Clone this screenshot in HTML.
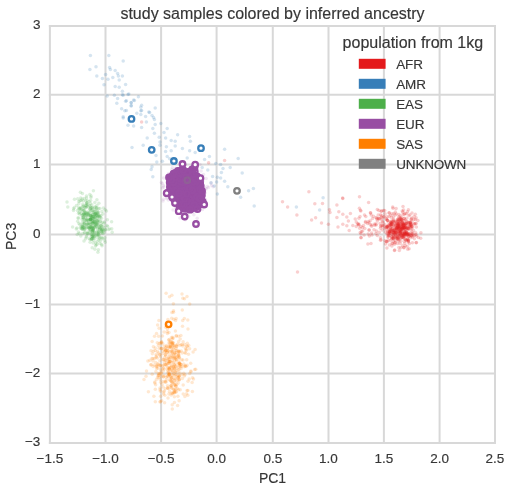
<!DOCTYPE html><html><head><meta charset="utf-8"><style>html,body{margin:0;padding:0;background:#fff;overflow:hidden}svg{display:block;filter:blur(0.6px)}</style></head><body><svg width="517" height="500" viewBox="0 0 517 500"><rect width="517" height="500" fill="#fff"/><g stroke="#d8d8d8" stroke-width="2.0" stroke-linecap="square"><line x1="49.90" y1="26" x2="49.90" y2="443"/><line x1="105.50" y1="26" x2="105.50" y2="443"/><line x1="161.10" y1="26" x2="161.10" y2="443"/><line x1="216.60" y1="26" x2="216.60" y2="443"/><line x1="272.80" y1="26" x2="272.80" y2="443"/><line x1="328.50" y1="26" x2="328.50" y2="443"/><line x1="383.90" y1="26" x2="383.90" y2="443"/><line x1="439.60" y1="26" x2="439.60" y2="443"/><line x1="495.00" y1="26" x2="495.00" y2="443"/><line x1="49.9" y1="26.00" x2="495" y2="26.00"/><line x1="49.9" y1="94.70" x2="495" y2="94.70"/><line x1="49.9" y1="164.50" x2="495" y2="164.50"/><line x1="49.9" y1="234.60" x2="495" y2="234.60"/><line x1="49.9" y1="304.40" x2="495" y2="304.40"/><line x1="49.9" y1="373.40" x2="495" y2="373.40"/><line x1="49.9" y1="443.00" x2="495" y2="443.00"/></g><g fill="#984ea3" fill-opacity="0.12"><circle cx="190.6" cy="182.6" r="1.75"/><circle cx="181.0" cy="187.2" r="1.75"/><circle cx="163.8" cy="187.0" r="1.75"/><circle cx="188.5" cy="185.4" r="1.75"/><circle cx="182.9" cy="181.3" r="1.75"/><circle cx="174.4" cy="184.9" r="1.75"/><circle cx="191.3" cy="186.9" r="1.75"/><circle cx="196.5" cy="187.4" r="1.75"/><circle cx="186.3" cy="210.1" r="1.75"/><circle cx="192.0" cy="183.4" r="1.75"/><circle cx="184.0" cy="197.0" r="1.75"/><circle cx="207.3" cy="186.5" r="1.75"/><circle cx="183.3" cy="203.0" r="1.75"/><circle cx="176.2" cy="186.2" r="1.75"/><circle cx="195.7" cy="197.5" r="1.75"/><circle cx="187.0" cy="198.7" r="1.75"/><circle cx="175.4" cy="168.3" r="1.75"/><circle cx="189.0" cy="199.1" r="1.75"/><circle cx="181.1" cy="176.0" r="1.75"/><circle cx="186.3" cy="189.3" r="1.75"/><circle cx="201.5" cy="199.7" r="1.75"/><circle cx="188.1" cy="204.5" r="1.75"/><circle cx="183.7" cy="178.0" r="1.75"/><circle cx="192.4" cy="197.6" r="1.75"/><circle cx="183.6" cy="179.8" r="1.75"/><circle cx="193.6" cy="196.4" r="1.75"/><circle cx="168.0" cy="190.8" r="1.75"/><circle cx="175.4" cy="199.8" r="1.75"/><circle cx="163.6" cy="178.1" r="1.75"/><circle cx="193.8" cy="205.0" r="1.75"/><circle cx="162.3" cy="183.5" r="1.75"/><circle cx="189.6" cy="182.1" r="1.75"/><circle cx="203.5" cy="174.5" r="1.75"/><circle cx="189.9" cy="176.4" r="1.75"/><circle cx="201.5" cy="189.7" r="1.75"/><circle cx="181.9" cy="167.7" r="1.75"/><circle cx="204.5" cy="199.8" r="1.75"/><circle cx="194.3" cy="204.8" r="1.75"/><circle cx="189.8" cy="181.7" r="1.75"/><circle cx="177.2" cy="179.6" r="1.75"/><circle cx="201.1" cy="171.0" r="1.75"/><circle cx="179.4" cy="185.8" r="1.75"/><circle cx="188.5" cy="197.5" r="1.75"/><circle cx="172.3" cy="167.5" r="1.75"/><circle cx="186.0" cy="205.8" r="1.75"/><circle cx="194.3" cy="192.8" r="1.75"/><circle cx="182.5" cy="193.8" r="1.75"/><circle cx="183.3" cy="200.6" r="1.75"/><circle cx="177.3" cy="191.7" r="1.75"/><circle cx="184.8" cy="197.1" r="1.75"/><circle cx="202.5" cy="209.5" r="1.75"/><circle cx="163.6" cy="185.6" r="1.75"/><circle cx="179.3" cy="196.9" r="1.75"/><circle cx="197.7" cy="173.1" r="1.75"/><circle cx="175.2" cy="179.6" r="1.75"/><circle cx="186.5" cy="198.3" r="1.75"/><circle cx="208.5" cy="187.4" r="1.75"/><circle cx="194.4" cy="192.0" r="1.75"/><circle cx="205.4" cy="199.6" r="1.75"/><circle cx="201.1" cy="176.0" r="1.75"/><circle cx="183.9" cy="179.4" r="1.75"/><circle cx="202.6" cy="198.5" r="1.75"/><circle cx="182.6" cy="184.1" r="1.75"/><circle cx="191.3" cy="180.9" r="1.75"/><circle cx="175.8" cy="196.3" r="1.75"/><circle cx="213.1" cy="186.8" r="1.75"/><circle cx="179.9" cy="174.8" r="1.75"/><circle cx="171.3" cy="196.8" r="1.75"/><circle cx="195.4" cy="190.1" r="1.75"/><circle cx="189.7" cy="191.5" r="1.75"/><circle cx="187.5" cy="170.2" r="1.75"/><circle cx="181.0" cy="191.4" r="1.75"/><circle cx="177.4" cy="183.8" r="1.75"/><circle cx="177.0" cy="185.7" r="1.75"/><circle cx="195.4" cy="184.7" r="1.75"/><circle cx="184.3" cy="200.6" r="1.75"/><circle cx="193.1" cy="212.0" r="1.75"/><circle cx="163.0" cy="201.1" r="1.75"/><circle cx="180.7" cy="191.8" r="1.75"/><circle cx="195.2" cy="204.1" r="1.75"/><circle cx="197.4" cy="192.0" r="1.75"/><circle cx="203.7" cy="186.3" r="1.75"/><circle cx="184.4" cy="200.4" r="1.75"/><circle cx="179.9" cy="218.1" r="1.75"/><circle cx="197.2" cy="218.3" r="1.75"/><circle cx="185.7" cy="185.0" r="1.75"/><circle cx="187.8" cy="199.5" r="1.75"/><circle cx="179.5" cy="194.9" r="1.75"/><circle cx="185.8" cy="211.0" r="1.75"/><circle cx="178.7" cy="203.6" r="1.75"/><circle cx="178.9" cy="177.5" r="1.75"/><circle cx="178.2" cy="174.5" r="1.75"/><circle cx="187.6" cy="203.4" r="1.75"/><circle cx="187.8" cy="198.1" r="1.75"/><circle cx="204.0" cy="193.5" r="1.75"/><circle cx="188.1" cy="186.4" r="1.75"/><circle cx="168.3" cy="199.9" r="1.75"/><circle cx="166.7" cy="198.5" r="1.75"/><circle cx="185.8" cy="204.6" r="1.75"/><circle cx="185.3" cy="179.3" r="1.75"/><circle cx="189.9" cy="182.7" r="1.75"/><circle cx="184.0" cy="190.5" r="1.75"/><circle cx="184.5" cy="187.5" r="1.75"/><circle cx="176.8" cy="187.5" r="1.75"/><circle cx="162.5" cy="188.0" r="1.75"/><circle cx="172.8" cy="204.6" r="1.75"/><circle cx="200.0" cy="164.6" r="1.75"/><circle cx="187.6" cy="188.4" r="1.75"/><circle cx="174.5" cy="196.9" r="1.75"/><circle cx="180.9" cy="167.0" r="1.75"/><circle cx="183.1" cy="188.1" r="1.75"/><circle cx="187.2" cy="174.0" r="1.75"/><circle cx="192.8" cy="199.6" r="1.75"/><circle cx="173.4" cy="181.4" r="1.75"/><circle cx="185.1" cy="182.6" r="1.75"/><circle cx="205.2" cy="192.7" r="1.75"/><circle cx="174.9" cy="179.8" r="1.75"/><circle cx="185.4" cy="219.8" r="1.75"/><circle cx="184.0" cy="191.7" r="1.75"/><circle cx="191.7" cy="189.5" r="1.75"/><circle cx="211.1" cy="183.1" r="1.75"/><circle cx="194.2" cy="192.1" r="1.75"/><circle cx="192.8" cy="174.7" r="1.75"/><circle cx="205.4" cy="188.4" r="1.75"/><circle cx="186.4" cy="177.8" r="1.75"/><circle cx="178.0" cy="197.3" r="1.75"/><circle cx="196.9" cy="199.8" r="1.75"/><circle cx="199.3" cy="199.3" r="1.75"/><circle cx="186.3" cy="200.9" r="1.75"/><circle cx="192.5" cy="188.7" r="1.75"/><circle cx="194.0" cy="206.7" r="1.75"/><circle cx="188.6" cy="185.4" r="1.75"/><circle cx="193.9" cy="214.7" r="1.75"/><circle cx="183.7" cy="188.8" r="1.75"/><circle cx="184.5" cy="205.9" r="1.75"/><circle cx="165.8" cy="194.8" r="1.75"/><circle cx="199.1" cy="179.4" r="1.75"/><circle cx="202.4" cy="197.0" r="1.75"/><circle cx="180.0" cy="192.7" r="1.75"/><circle cx="169.1" cy="182.6" r="1.75"/><circle cx="206.1" cy="178.4" r="1.75"/><circle cx="206.3" cy="188.9" r="1.75"/><circle cx="196.9" cy="190.6" r="1.75"/><circle cx="161.3" cy="182.6" r="1.75"/><circle cx="188.1" cy="175.0" r="1.75"/><circle cx="171.2" cy="194.8" r="1.75"/><circle cx="178.9" cy="168.0" r="1.75"/><circle cx="178.5" cy="201.2" r="1.75"/><circle cx="180.8" cy="202.2" r="1.75"/><circle cx="202.8" cy="190.4" r="1.75"/><circle cx="173.6" cy="173.1" r="1.75"/><circle cx="185.7" cy="201.5" r="1.75"/><circle cx="189.0" cy="197.1" r="1.75"/><circle cx="181.1" cy="193.9" r="1.75"/><circle cx="180.8" cy="185.8" r="1.75"/><circle cx="171.8" cy="169.6" r="1.75"/><circle cx="180.7" cy="175.6" r="1.75"/><circle cx="175.5" cy="198.7" r="1.75"/><circle cx="196.2" cy="181.8" r="1.75"/><circle cx="194.6" cy="194.6" r="1.75"/><circle cx="178.5" cy="204.3" r="1.75"/><circle cx="194.7" cy="182.0" r="1.75"/><circle cx="202.3" cy="181.6" r="1.75"/><circle cx="173.0" cy="210.1" r="1.75"/><circle cx="174.2" cy="192.6" r="1.75"/><circle cx="201.9" cy="191.5" r="1.75"/><circle cx="185.1" cy="191.3" r="1.75"/><circle cx="195.2" cy="179.5" r="1.75"/><circle cx="192.7" cy="197.5" r="1.75"/><circle cx="211.7" cy="185.6" r="1.75"/><circle cx="175.9" cy="199.6" r="1.75"/><circle cx="181.6" cy="193.8" r="1.75"/><circle cx="187.5" cy="205.2" r="1.75"/><circle cx="178.8" cy="188.8" r="1.75"/><circle cx="202.9" cy="181.1" r="1.75"/><circle cx="178.3" cy="174.2" r="1.75"/><circle cx="192.4" cy="192.3" r="1.75"/><circle cx="172.9" cy="198.7" r="1.75"/><circle cx="188.9" cy="199.8" r="1.75"/><circle cx="178.9" cy="212.6" r="1.75"/><circle cx="190.5" cy="188.5" r="1.75"/><circle cx="180.3" cy="186.8" r="1.75"/><circle cx="195.4" cy="186.5" r="1.75"/><circle cx="197.9" cy="197.5" r="1.75"/><circle cx="200.8" cy="200.6" r="1.75"/><circle cx="185.3" cy="165.2" r="1.75"/><circle cx="189.3" cy="200.3" r="1.75"/><circle cx="187.8" cy="197.2" r="1.75"/><circle cx="180.8" cy="185.1" r="1.75"/><circle cx="175.6" cy="207.7" r="1.75"/><circle cx="187.7" cy="183.6" r="1.75"/><circle cx="171.3" cy="188.0" r="1.75"/><circle cx="201.9" cy="196.0" r="1.75"/><circle cx="178.0" cy="208.6" r="1.75"/><circle cx="201.7" cy="202.8" r="1.75"/><circle cx="194.7" cy="205.0" r="1.75"/><circle cx="192.0" cy="200.1" r="1.75"/><circle cx="177.4" cy="209.5" r="1.75"/><circle cx="188.5" cy="216.3" r="1.75"/><circle cx="163.5" cy="199.2" r="1.75"/><circle cx="196.8" cy="185.5" r="1.75"/><circle cx="191.0" cy="199.7" r="1.75"/><circle cx="192.4" cy="183.0" r="1.75"/><circle cx="184.4" cy="203.2" r="1.75"/><circle cx="200.1" cy="191.3" r="1.75"/><circle cx="186.8" cy="192.6" r="1.75"/><circle cx="197.4" cy="176.3" r="1.75"/><circle cx="171.4" cy="191.6" r="1.75"/><circle cx="173.8" cy="182.4" r="1.75"/><circle cx="186.9" cy="196.3" r="1.75"/><circle cx="174.2" cy="200.4" r="1.75"/><circle cx="166.5" cy="197.1" r="1.75"/><circle cx="168.6" cy="173.4" r="1.75"/><circle cx="193.1" cy="184.7" r="1.75"/><circle cx="177.2" cy="184.2" r="1.75"/><circle cx="191.1" cy="189.3" r="1.75"/><circle cx="185.7" cy="203.7" r="1.75"/><circle cx="178.1" cy="183.9" r="1.75"/><circle cx="180.3" cy="205.2" r="1.75"/><circle cx="196.9" cy="206.7" r="1.75"/></g><g fill="#377eb8" fill-opacity="0.21"><circle cx="90.4" cy="55.5" r="1.75"/><circle cx="108.8" cy="55.5" r="1.75"/><circle cx="123.2" cy="61.1" r="1.75"/><circle cx="96.0" cy="66.7" r="1.75"/><circle cx="89.9" cy="69.6" r="1.75"/><circle cx="109.6" cy="67.5" r="1.75"/><circle cx="110.4" cy="69.6" r="1.75"/><circle cx="115.2" cy="70.4" r="1.75"/><circle cx="117.6" cy="73.6" r="1.75"/><circle cx="105.6" cy="74.4" r="1.75"/><circle cx="96.8" cy="76.0" r="1.75"/><circle cx="118.4" cy="76.0" r="1.75"/><circle cx="122.4" cy="76.0" r="1.75"/><circle cx="102.4" cy="78.4" r="1.75"/><circle cx="108.0" cy="79.2" r="1.75"/><circle cx="112.8" cy="77.6" r="1.75"/><circle cx="119.2" cy="80.0" r="1.75"/><circle cx="104.0" cy="84.8" r="1.75"/><circle cx="115.2" cy="86.4" r="1.75"/><circle cx="119.2" cy="87.2" r="1.75"/><circle cx="125.6" cy="84.5" r="1.75"/><circle cx="122.4" cy="91.2" r="1.75"/><circle cx="107.2" cy="96.0" r="1.75"/><circle cx="114.4" cy="95.2" r="1.75"/><circle cx="123.2" cy="95.2" r="1.75"/><circle cx="128.0" cy="94.4" r="1.75"/><circle cx="138.4" cy="96.8" r="1.75"/><circle cx="117.6" cy="98.4" r="1.75"/><circle cx="126.4" cy="100.8" r="1.75"/><circle cx="133.6" cy="100.0" r="1.75"/><circle cx="131.2" cy="102.4" r="1.75"/><circle cx="116.8" cy="103.2" r="1.75"/><circle cx="131.2" cy="105.6" r="1.75"/><circle cx="140.8" cy="107.2" r="1.75"/><circle cx="155.2" cy="108.0" r="1.75"/><circle cx="121.6" cy="108.8" r="1.75"/><circle cx="126.4" cy="110.4" r="1.75"/><circle cx="141.6" cy="110.4" r="1.75"/><circle cx="148.8" cy="112.0" r="1.75"/><circle cx="123.2" cy="116.8" r="1.75"/><circle cx="140.8" cy="114.4" r="1.75"/><circle cx="153.6" cy="117.6" r="1.75"/><circle cx="122.4" cy="94.8" r="1.75"/><circle cx="128.8" cy="94.0" r="1.75"/><circle cx="125.6" cy="101.2" r="1.75"/><circle cx="131.2" cy="102.8" r="1.75"/><circle cx="134.4" cy="100.4" r="1.75"/><circle cx="131.2" cy="106.0" r="1.75"/><circle cx="141.6" cy="105.2" r="1.75"/><circle cx="124.8" cy="110.8" r="1.75"/><circle cx="140.8" cy="110.8" r="1.75"/><circle cx="149.6" cy="112.4" r="1.75"/><circle cx="136.8" cy="113.2" r="1.75"/><circle cx="123.2" cy="118.0" r="1.75"/><circle cx="145.6" cy="116.4" r="1.75"/><circle cx="152.0" cy="115.6" r="1.75"/><circle cx="154.4" cy="119.6" r="1.75"/><circle cx="146.4" cy="122.0" r="1.75"/><circle cx="155.2" cy="124.4" r="1.75"/><circle cx="160.8" cy="123.6" r="1.75"/><circle cx="128.0" cy="125.2" r="1.75"/><circle cx="133.6" cy="126.0" r="1.75"/><circle cx="141.6" cy="127.6" r="1.75"/><circle cx="152.8" cy="128.4" r="1.75"/><circle cx="167.2" cy="128.4" r="1.75"/><circle cx="154.4" cy="133.2" r="1.75"/><circle cx="164.0" cy="132.4" r="1.75"/><circle cx="159.2" cy="137.2" r="1.75"/><circle cx="165.6" cy="138.0" r="1.75"/><circle cx="147.2" cy="138.0" r="1.75"/><circle cx="177.6" cy="134.8" r="1.75"/><circle cx="189.6" cy="136.4" r="1.75"/><circle cx="160.0" cy="142.0" r="1.75"/><circle cx="171.2" cy="140.4" r="1.75"/><circle cx="175.2" cy="141.2" r="1.75"/><circle cx="190.4" cy="141.2" r="1.75"/><circle cx="143.2" cy="145.2" r="1.75"/><circle cx="160.0" cy="145.2" r="1.75"/><circle cx="132.0" cy="147.6" r="1.75"/><circle cx="166.4" cy="146.8" r="1.75"/><circle cx="175.2" cy="146.0" r="1.75"/><circle cx="182.4" cy="148.4" r="1.75"/><circle cx="189.6" cy="150.8" r="1.75"/><circle cx="195.2" cy="152.4" r="1.75"/><circle cx="165.6" cy="151.6" r="1.75"/><circle cx="171.2" cy="150.8" r="1.75"/><circle cx="156.0" cy="155.6" r="1.75"/><circle cx="167.2" cy="156.4" r="1.75"/><circle cx="187.2" cy="158.0" r="1.75"/><circle cx="156.8" cy="162.0" r="1.75"/><circle cx="162.4" cy="161.2" r="1.75"/><circle cx="169.6" cy="158.8" r="1.75"/><circle cx="152.0" cy="166.8" r="1.75"/><circle cx="151.2" cy="169.6" r="1.75"/><circle cx="152.8" cy="176.8" r="1.75"/><circle cx="224.6" cy="149.2" r="1.75"/><circle cx="238.2" cy="158.5" r="1.75"/><circle cx="209.4" cy="156.4" r="1.75"/><circle cx="204.6" cy="159.6" r="1.75"/><circle cx="215.8" cy="163.6" r="1.75"/><circle cx="220.6" cy="164.4" r="1.75"/><circle cx="202.2" cy="167.6" r="1.75"/><circle cx="223.0" cy="168.4" r="1.75"/><circle cx="230.2" cy="167.6" r="1.75"/><circle cx="207.8" cy="170.0" r="1.75"/><circle cx="221.4" cy="172.4" r="1.75"/><circle cx="242.2" cy="172.9" r="1.75"/><circle cx="212.6" cy="176.4" r="1.75"/><circle cx="217.4" cy="177.2" r="1.75"/><circle cx="220.6" cy="178.0" r="1.75"/><circle cx="216.6" cy="182.0" r="1.75"/><circle cx="224.6" cy="181.2" r="1.75"/><circle cx="211.0" cy="182.8" r="1.75"/><circle cx="214.2" cy="186.0" r="1.75"/><circle cx="227.8" cy="186.8" r="1.75"/><circle cx="217.4" cy="194.0" r="1.75"/><circle cx="248.6" cy="190.8" r="1.75"/><circle cx="253.4" cy="188.4" r="1.75"/><circle cx="240.6" cy="197.2" r="1.75"/><circle cx="254.2" cy="206.0" r="1.75"/><circle cx="323.1" cy="197.8" r="1.75"/><circle cx="296.4" cy="207.1" r="1.75"/><circle cx="319.6" cy="210.1" r="1.75"/></g><g fill="#4daf4a" fill-opacity="0.19"><circle cx="90.7" cy="219.2" r="1.75"/><circle cx="97.8" cy="219.6" r="1.75"/><circle cx="97.6" cy="231.8" r="1.75"/><circle cx="85.4" cy="217.7" r="1.75"/><circle cx="90.0" cy="239.6" r="1.75"/><circle cx="111.7" cy="228.8" r="1.75"/><circle cx="91.1" cy="196.0" r="1.75"/><circle cx="92.7" cy="221.7" r="1.75"/><circle cx="82.4" cy="225.9" r="1.75"/><circle cx="78.5" cy="213.2" r="1.75"/><circle cx="92.1" cy="207.8" r="1.75"/><circle cx="97.9" cy="235.5" r="1.75"/><circle cx="79.9" cy="200.8" r="1.75"/><circle cx="95.8" cy="222.7" r="1.75"/><circle cx="81.3" cy="213.6" r="1.75"/><circle cx="90.1" cy="219.1" r="1.75"/><circle cx="97.6" cy="228.1" r="1.75"/><circle cx="105.2" cy="242.2" r="1.75"/><circle cx="96.4" cy="235.2" r="1.75"/><circle cx="101.6" cy="233.3" r="1.75"/><circle cx="81.2" cy="226.2" r="1.75"/><circle cx="91.6" cy="239.0" r="1.75"/><circle cx="91.7" cy="227.1" r="1.75"/><circle cx="93.6" cy="240.6" r="1.75"/><circle cx="92.4" cy="218.7" r="1.75"/><circle cx="93.5" cy="217.2" r="1.75"/><circle cx="92.3" cy="221.5" r="1.75"/><circle cx="93.2" cy="243.0" r="1.75"/><circle cx="87.8" cy="220.0" r="1.75"/><circle cx="89.4" cy="227.7" r="1.75"/><circle cx="81.5" cy="209.3" r="1.75"/><circle cx="90.7" cy="226.9" r="1.75"/><circle cx="90.6" cy="215.4" r="1.75"/><circle cx="84.1" cy="223.6" r="1.75"/><circle cx="102.5" cy="229.5" r="1.75"/><circle cx="92.5" cy="226.5" r="1.75"/><circle cx="83.5" cy="214.3" r="1.75"/><circle cx="88.9" cy="223.3" r="1.75"/><circle cx="90.7" cy="207.5" r="1.75"/><circle cx="100.0" cy="243.4" r="1.75"/><circle cx="88.9" cy="224.5" r="1.75"/><circle cx="93.1" cy="230.5" r="1.75"/><circle cx="79.2" cy="233.6" r="1.75"/><circle cx="87.3" cy="233.3" r="1.75"/><circle cx="91.6" cy="217.0" r="1.75"/><circle cx="89.9" cy="230.4" r="1.75"/><circle cx="84.1" cy="213.9" r="1.75"/><circle cx="87.1" cy="200.5" r="1.75"/><circle cx="101.4" cy="231.8" r="1.75"/><circle cx="90.8" cy="233.7" r="1.75"/><circle cx="83.3" cy="216.9" r="1.75"/><circle cx="104.8" cy="237.7" r="1.75"/><circle cx="82.7" cy="229.1" r="1.75"/><circle cx="87.2" cy="217.0" r="1.75"/><circle cx="95.9" cy="213.4" r="1.75"/><circle cx="92.7" cy="230.4" r="1.75"/><circle cx="94.7" cy="227.0" r="1.75"/><circle cx="86.2" cy="224.6" r="1.75"/><circle cx="87.6" cy="233.8" r="1.75"/><circle cx="111.6" cy="221.7" r="1.75"/><circle cx="73.6" cy="208.8" r="1.75"/><circle cx="94.0" cy="233.8" r="1.75"/><circle cx="99.6" cy="216.1" r="1.75"/><circle cx="84.7" cy="232.2" r="1.75"/><circle cx="82.3" cy="229.2" r="1.75"/><circle cx="89.2" cy="228.6" r="1.75"/><circle cx="96.6" cy="232.0" r="1.75"/><circle cx="97.6" cy="213.0" r="1.75"/><circle cx="93.4" cy="222.2" r="1.75"/><circle cx="93.5" cy="235.6" r="1.75"/><circle cx="88.8" cy="212.3" r="1.75"/><circle cx="85.2" cy="215.1" r="1.75"/><circle cx="97.0" cy="214.7" r="1.75"/><circle cx="100.3" cy="228.2" r="1.75"/><circle cx="89.2" cy="205.6" r="1.75"/><circle cx="93.0" cy="229.4" r="1.75"/><circle cx="76.9" cy="228.0" r="1.75"/><circle cx="104.2" cy="230.4" r="1.75"/><circle cx="94.9" cy="249.2" r="1.75"/><circle cx="100.9" cy="215.4" r="1.75"/><circle cx="90.9" cy="219.2" r="1.75"/><circle cx="89.8" cy="194.5" r="1.75"/><circle cx="97.1" cy="216.6" r="1.75"/><circle cx="92.3" cy="220.1" r="1.75"/><circle cx="98.0" cy="220.8" r="1.75"/><circle cx="84.6" cy="224.1" r="1.75"/><circle cx="102.2" cy="222.3" r="1.75"/><circle cx="102.0" cy="228.6" r="1.75"/><circle cx="86.7" cy="235.9" r="1.75"/><circle cx="84.5" cy="229.3" r="1.75"/><circle cx="87.0" cy="224.2" r="1.75"/><circle cx="81.1" cy="207.6" r="1.75"/><circle cx="99.5" cy="226.7" r="1.75"/><circle cx="91.3" cy="216.3" r="1.75"/><circle cx="94.6" cy="207.2" r="1.75"/><circle cx="82.0" cy="215.4" r="1.75"/><circle cx="84.3" cy="210.4" r="1.75"/><circle cx="90.4" cy="219.2" r="1.75"/><circle cx="89.2" cy="238.5" r="1.75"/><circle cx="99.1" cy="238.0" r="1.75"/><circle cx="90.8" cy="215.4" r="1.75"/><circle cx="79.4" cy="212.2" r="1.75"/><circle cx="74.3" cy="207.4" r="1.75"/><circle cx="97.1" cy="241.4" r="1.75"/><circle cx="98.7" cy="214.9" r="1.75"/><circle cx="94.9" cy="214.0" r="1.75"/><circle cx="97.6" cy="222.6" r="1.75"/><circle cx="97.9" cy="252.2" r="1.75"/><circle cx="98.4" cy="249.8" r="1.75"/><circle cx="92.4" cy="218.0" r="1.75"/><circle cx="101.7" cy="244.5" r="1.75"/><circle cx="86.6" cy="219.9" r="1.75"/><circle cx="79.5" cy="213.9" r="1.75"/><circle cx="98.1" cy="223.1" r="1.75"/><circle cx="86.4" cy="203.6" r="1.75"/><circle cx="93.9" cy="231.0" r="1.75"/><circle cx="95.8" cy="225.9" r="1.75"/><circle cx="80.8" cy="235.9" r="1.75"/><circle cx="90.5" cy="219.2" r="1.75"/><circle cx="96.9" cy="199.8" r="1.75"/><circle cx="90.5" cy="219.3" r="1.75"/><circle cx="94.0" cy="237.1" r="1.75"/><circle cx="94.8" cy="202.5" r="1.75"/><circle cx="88.3" cy="222.1" r="1.75"/><circle cx="92.2" cy="207.5" r="1.75"/><circle cx="77.7" cy="221.3" r="1.75"/><circle cx="93.7" cy="222.0" r="1.75"/><circle cx="77.2" cy="234.5" r="1.75"/><circle cx="67.8" cy="207.0" r="1.75"/><circle cx="107.7" cy="226.5" r="1.75"/><circle cx="92.9" cy="208.9" r="1.75"/><circle cx="101.9" cy="211.5" r="1.75"/><circle cx="93.0" cy="223.4" r="1.75"/><circle cx="82.6" cy="227.1" r="1.75"/><circle cx="79.7" cy="208.6" r="1.75"/><circle cx="90.8" cy="216.4" r="1.75"/><circle cx="94.7" cy="232.8" r="1.75"/><circle cx="88.6" cy="214.0" r="1.75"/><circle cx="86.9" cy="215.2" r="1.75"/><circle cx="97.5" cy="221.4" r="1.75"/><circle cx="94.3" cy="221.4" r="1.75"/><circle cx="84.2" cy="227.6" r="1.75"/><circle cx="82.7" cy="217.5" r="1.75"/><circle cx="102.9" cy="214.1" r="1.75"/><circle cx="90.6" cy="203.4" r="1.75"/><circle cx="86.9" cy="202.8" r="1.75"/><circle cx="88.1" cy="213.8" r="1.75"/><circle cx="92.1" cy="238.8" r="1.75"/><circle cx="93.3" cy="229.2" r="1.75"/><circle cx="90.6" cy="218.1" r="1.75"/><circle cx="84.3" cy="198.4" r="1.75"/><circle cx="91.5" cy="239.1" r="1.75"/><circle cx="94.8" cy="216.8" r="1.75"/><circle cx="104.2" cy="221.9" r="1.75"/><circle cx="86.0" cy="205.6" r="1.75"/><circle cx="83.3" cy="215.0" r="1.75"/><circle cx="107.0" cy="225.6" r="1.75"/><circle cx="82.7" cy="210.8" r="1.75"/><circle cx="89.2" cy="201.5" r="1.75"/><circle cx="92.0" cy="229.1" r="1.75"/><circle cx="93.6" cy="228.7" r="1.75"/><circle cx="80.7" cy="197.9" r="1.75"/><circle cx="101.3" cy="237.4" r="1.75"/><circle cx="78.7" cy="218.0" r="1.75"/><circle cx="91.2" cy="227.1" r="1.75"/><circle cx="92.7" cy="216.2" r="1.75"/><circle cx="92.6" cy="223.4" r="1.75"/><circle cx="90.6" cy="200.5" r="1.75"/><circle cx="67.0" cy="202.0" r="1.75"/><circle cx="77.9" cy="218.1" r="1.75"/><circle cx="96.7" cy="226.4" r="1.75"/><circle cx="88.0" cy="220.5" r="1.75"/><circle cx="100.3" cy="217.0" r="1.75"/><circle cx="98.4" cy="231.9" r="1.75"/><circle cx="93.1" cy="237.8" r="1.75"/><circle cx="85.3" cy="228.9" r="1.75"/><circle cx="83.6" cy="209.4" r="1.75"/><circle cx="82.5" cy="222.2" r="1.75"/><circle cx="83.5" cy="218.3" r="1.75"/><circle cx="81.9" cy="228.8" r="1.75"/><circle cx="105.7" cy="229.8" r="1.75"/><circle cx="104.1" cy="232.8" r="1.75"/><circle cx="108.4" cy="229.6" r="1.75"/><circle cx="78.4" cy="231.9" r="1.75"/><circle cx="90.0" cy="209.2" r="1.75"/><circle cx="85.7" cy="200.9" r="1.75"/><circle cx="89.7" cy="208.7" r="1.75"/><circle cx="102.9" cy="233.4" r="1.75"/><circle cx="77.7" cy="198.7" r="1.75"/><circle cx="86.5" cy="197.9" r="1.75"/><circle cx="90.1" cy="220.1" r="1.75"/><circle cx="84.8" cy="212.3" r="1.75"/><circle cx="95.0" cy="238.3" r="1.75"/><circle cx="103.0" cy="226.5" r="1.75"/><circle cx="97.8" cy="215.9" r="1.75"/><circle cx="94.3" cy="211.9" r="1.75"/><circle cx="96.8" cy="209.9" r="1.75"/><circle cx="83.3" cy="217.6" r="1.75"/><circle cx="95.5" cy="207.1" r="1.75"/><circle cx="86.7" cy="220.6" r="1.75"/><circle cx="92.8" cy="212.6" r="1.75"/><circle cx="91.8" cy="218.4" r="1.75"/><circle cx="102.2" cy="232.0" r="1.75"/><circle cx="80.4" cy="192.3" r="1.75"/><circle cx="91.8" cy="234.3" r="1.75"/><circle cx="92.4" cy="231.3" r="1.75"/><circle cx="87.1" cy="204.4" r="1.75"/><circle cx="97.0" cy="224.7" r="1.75"/><circle cx="96.5" cy="208.2" r="1.75"/><circle cx="92.5" cy="214.8" r="1.75"/><circle cx="97.5" cy="217.4" r="1.75"/><circle cx="86.1" cy="212.5" r="1.75"/><circle cx="101.1" cy="225.7" r="1.75"/><circle cx="84.9" cy="207.2" r="1.75"/><circle cx="82.6" cy="233.4" r="1.75"/><circle cx="76.5" cy="205.4" r="1.75"/><circle cx="96.1" cy="236.1" r="1.75"/><circle cx="89.8" cy="229.1" r="1.75"/><circle cx="97.1" cy="234.4" r="1.75"/><circle cx="91.4" cy="239.3" r="1.75"/><circle cx="92.7" cy="238.7" r="1.75"/><circle cx="82.3" cy="227.8" r="1.75"/><circle cx="81.1" cy="200.6" r="1.75"/><circle cx="95.2" cy="214.0" r="1.75"/><circle cx="94.8" cy="211.2" r="1.75"/><circle cx="104.1" cy="227.2" r="1.75"/><circle cx="82.2" cy="219.6" r="1.75"/><circle cx="98.4" cy="216.2" r="1.75"/><circle cx="95.5" cy="245.9" r="1.75"/><circle cx="98.3" cy="224.6" r="1.75"/><circle cx="86.8" cy="226.1" r="1.75"/><circle cx="86.1" cy="207.6" r="1.75"/><circle cx="105.4" cy="229.4" r="1.75"/><circle cx="83.6" cy="205.7" r="1.75"/><circle cx="95.5" cy="214.5" r="1.75"/><circle cx="86.8" cy="218.9" r="1.75"/><circle cx="92.2" cy="223.3" r="1.75"/><circle cx="92.4" cy="236.6" r="1.75"/><circle cx="105.1" cy="209.7" r="1.75"/><circle cx="112.2" cy="232.3" r="1.75"/><circle cx="101.5" cy="218.2" r="1.75"/><circle cx="94.2" cy="225.5" r="1.75"/><circle cx="92.5" cy="231.8" r="1.75"/><circle cx="96.6" cy="213.2" r="1.75"/><circle cx="90.7" cy="229.7" r="1.75"/><circle cx="97.1" cy="220.8" r="1.75"/><circle cx="89.4" cy="219.4" r="1.75"/><circle cx="82.8" cy="204.2" r="1.75"/><circle cx="104.2" cy="223.2" r="1.75"/><circle cx="92.4" cy="214.2" r="1.75"/><circle cx="102.0" cy="245.8" r="1.75"/><circle cx="89.8" cy="227.0" r="1.75"/><circle cx="85.6" cy="238.8" r="1.75"/><circle cx="99.0" cy="216.1" r="1.75"/><circle cx="101.6" cy="230.3" r="1.75"/><circle cx="94.9" cy="227.4" r="1.75"/><circle cx="86.2" cy="213.9" r="1.75"/><circle cx="96.6" cy="223.7" r="1.75"/><circle cx="84.0" cy="241.1" r="1.75"/><circle cx="89.9" cy="215.2" r="1.75"/><circle cx="86.0" cy="227.2" r="1.75"/><circle cx="99.4" cy="228.1" r="1.75"/><circle cx="98.5" cy="208.5" r="1.75"/><circle cx="88.6" cy="215.5" r="1.75"/><circle cx="91.6" cy="227.3" r="1.75"/><circle cx="84.6" cy="222.7" r="1.75"/><circle cx="98.1" cy="234.1" r="1.75"/><circle cx="93.4" cy="190.8" r="1.75"/><circle cx="82.8" cy="226.4" r="1.75"/><circle cx="84.1" cy="207.0" r="1.75"/><circle cx="72.6" cy="226.9" r="1.75"/><circle cx="95.5" cy="213.6" r="1.75"/><circle cx="90.3" cy="220.0" r="1.75"/><circle cx="82.4" cy="214.7" r="1.75"/><circle cx="93.3" cy="228.4" r="1.75"/><circle cx="101.4" cy="226.1" r="1.75"/><circle cx="87.5" cy="224.2" r="1.75"/><circle cx="86.2" cy="205.4" r="1.75"/><circle cx="100.3" cy="221.1" r="1.75"/><circle cx="92.1" cy="228.8" r="1.75"/><circle cx="82.3" cy="224.5" r="1.75"/><circle cx="94.8" cy="221.8" r="1.75"/><circle cx="94.3" cy="214.3" r="1.75"/><circle cx="73.5" cy="210.6" r="1.75"/><circle cx="83.9" cy="227.7" r="1.75"/><circle cx="93.3" cy="216.4" r="1.75"/><circle cx="91.5" cy="236.3" r="1.75"/><circle cx="100.2" cy="229.2" r="1.75"/><circle cx="94.6" cy="219.7" r="1.75"/><circle cx="90.1" cy="227.3" r="1.75"/><circle cx="90.2" cy="224.1" r="1.75"/><circle cx="82.2" cy="199.1" r="1.75"/><circle cx="77.5" cy="210.6" r="1.75"/><circle cx="101.8" cy="238.8" r="1.75"/><circle cx="83.1" cy="200.7" r="1.75"/><circle cx="97.5" cy="229.0" r="1.75"/><circle cx="80.2" cy="228.1" r="1.75"/><circle cx="92.5" cy="236.4" r="1.75"/><circle cx="93.9" cy="232.2" r="1.75"/><circle cx="93.7" cy="211.9" r="1.75"/><circle cx="89.3" cy="213.0" r="1.75"/><circle cx="97.8" cy="213.1" r="1.75"/><circle cx="78.8" cy="223.4" r="1.75"/><circle cx="100.3" cy="241.0" r="1.75"/><circle cx="99.9" cy="208.4" r="1.75"/><circle cx="85.5" cy="212.8" r="1.75"/><circle cx="90.9" cy="197.5" r="1.75"/><circle cx="91.0" cy="224.2" r="1.75"/><circle cx="83.5" cy="219.2" r="1.75"/><circle cx="100.6" cy="225.8" r="1.75"/><circle cx="99.5" cy="235.9" r="1.75"/><circle cx="94.4" cy="226.8" r="1.75"/><circle cx="88.1" cy="233.5" r="1.75"/><circle cx="87.3" cy="211.9" r="1.75"/><circle cx="96.7" cy="215.6" r="1.75"/><circle cx="94.5" cy="234.2" r="1.75"/><circle cx="91.7" cy="222.6" r="1.75"/><circle cx="98.4" cy="232.6" r="1.75"/><circle cx="78.8" cy="201.5" r="1.75"/><circle cx="101.8" cy="230.1" r="1.75"/><circle cx="74.5" cy="199.2" r="1.75"/><circle cx="91.3" cy="210.6" r="1.75"/><circle cx="94.9" cy="223.7" r="1.75"/><circle cx="95.1" cy="210.1" r="1.75"/><circle cx="96.1" cy="244.9" r="1.75"/><circle cx="84.8" cy="233.0" r="1.75"/><circle cx="99.0" cy="231.8" r="1.75"/><circle cx="90.6" cy="208.3" r="1.75"/><circle cx="84.2" cy="226.7" r="1.75"/><circle cx="99.0" cy="238.1" r="1.75"/><circle cx="98.9" cy="234.6" r="1.75"/><circle cx="87.7" cy="206.6" r="1.75"/><circle cx="92.8" cy="227.5" r="1.75"/><circle cx="91.9" cy="205.0" r="1.75"/><circle cx="87.0" cy="203.3" r="1.75"/><circle cx="92.4" cy="210.3" r="1.75"/><circle cx="89.9" cy="224.3" r="1.75"/><circle cx="92.3" cy="236.8" r="1.75"/><circle cx="82.4" cy="193.6" r="1.75"/><circle cx="98.8" cy="240.0" r="1.75"/><circle cx="102.7" cy="229.5" r="1.75"/><circle cx="95.5" cy="224.6" r="1.75"/><circle cx="80.9" cy="210.7" r="1.75"/><circle cx="95.2" cy="216.8" r="1.75"/><circle cx="106.5" cy="211.1" r="1.75"/><circle cx="87.8" cy="232.1" r="1.75"/><circle cx="86.4" cy="206.9" r="1.75"/><circle cx="80.4" cy="208.8" r="1.75"/><circle cx="103.3" cy="231.1" r="1.75"/><circle cx="95.4" cy="217.5" r="1.75"/><circle cx="98.0" cy="225.5" r="1.75"/><circle cx="83.9" cy="213.3" r="1.75"/><circle cx="92.9" cy="235.0" r="1.75"/><circle cx="90.8" cy="226.8" r="1.75"/><circle cx="107.4" cy="219.7" r="1.75"/><circle cx="81.3" cy="228.0" r="1.75"/><circle cx="94.8" cy="221.9" r="1.75"/><circle cx="93.4" cy="218.8" r="1.75"/><circle cx="95.4" cy="219.6" r="1.75"/><circle cx="97.7" cy="211.4" r="1.75"/><circle cx="84.7" cy="220.0" r="1.75"/><circle cx="87.5" cy="227.5" r="1.75"/><circle cx="90.9" cy="215.4" r="1.75"/><circle cx="93.0" cy="216.5" r="1.75"/><circle cx="78.8" cy="203.7" r="1.75"/><circle cx="84.9" cy="213.6" r="1.75"/><circle cx="92.1" cy="231.9" r="1.75"/><circle cx="95.7" cy="243.0" r="1.75"/><circle cx="101.5" cy="223.9" r="1.75"/><circle cx="104.5" cy="240.3" r="1.75"/><circle cx="87.7" cy="223.5" r="1.75"/><circle cx="100.1" cy="228.1" r="1.75"/><circle cx="99.5" cy="229.5" r="1.75"/><circle cx="97.0" cy="220.6" r="1.75"/><circle cx="94.4" cy="219.0" r="1.75"/><circle cx="96.8" cy="205.5" r="1.75"/><circle cx="94.1" cy="236.5" r="1.75"/><circle cx="96.0" cy="223.4" r="1.75"/><circle cx="95.7" cy="214.3" r="1.75"/><circle cx="84.7" cy="214.9" r="1.75"/><circle cx="90.2" cy="231.8" r="1.75"/><circle cx="84.2" cy="229.6" r="1.75"/><circle cx="78.8" cy="207.6" r="1.75"/><circle cx="91.1" cy="234.2" r="1.75"/><circle cx="86.5" cy="196.0" r="1.75"/><circle cx="94.7" cy="222.8" r="1.75"/><circle cx="82.7" cy="206.5" r="1.75"/><circle cx="85.8" cy="220.3" r="1.75"/><circle cx="96.7" cy="207.7" r="1.75"/><circle cx="109.7" cy="229.1" r="1.75"/><circle cx="88.4" cy="227.8" r="1.75"/><circle cx="92.2" cy="247.7" r="1.75"/><circle cx="100.1" cy="221.4" r="1.75"/><circle cx="88.2" cy="214.8" r="1.75"/><circle cx="88.6" cy="227.8" r="1.75"/><circle cx="86.2" cy="237.1" r="1.75"/><circle cx="90.7" cy="219.8" r="1.75"/><circle cx="98.9" cy="203.2" r="1.75"/><circle cx="83.9" cy="225.0" r="1.75"/><circle cx="91.4" cy="221.5" r="1.75"/><circle cx="94.5" cy="216.4" r="1.75"/><circle cx="90.0" cy="206.1" r="1.75"/><circle cx="76.3" cy="229.0" r="1.75"/><circle cx="83.9" cy="210.5" r="1.75"/><circle cx="102.5" cy="238.0" r="1.75"/><circle cx="87.1" cy="213.9" r="1.75"/><circle cx="90.7" cy="210.8" r="1.75"/><circle cx="95.7" cy="225.1" r="1.75"/><circle cx="92.4" cy="230.3" r="1.75"/><circle cx="97.1" cy="244.2" r="1.75"/><circle cx="103.4" cy="208.0" r="1.75"/><circle cx="98.5" cy="212.4" r="1.75"/><circle cx="79.9" cy="224.4" r="1.75"/><circle cx="85.7" cy="215.7" r="1.75"/><circle cx="99.9" cy="218.0" r="1.75"/><circle cx="84.1" cy="222.1" r="1.75"/><circle cx="101.1" cy="231.6" r="1.75"/><circle cx="78.9" cy="209.1" r="1.75"/><circle cx="90.1" cy="242.2" r="1.75"/><circle cx="98.5" cy="234.0" r="1.75"/></g><g fill="#ff7f00" fill-opacity="0.18"><circle cx="183.0" cy="359.9" r="1.75"/><circle cx="175.4" cy="375.0" r="1.75"/><circle cx="160.1" cy="365.4" r="1.75"/><circle cx="176.3" cy="345.2" r="1.75"/><circle cx="178.9" cy="380.1" r="1.75"/><circle cx="181.3" cy="351.0" r="1.75"/><circle cx="171.5" cy="393.3" r="1.75"/><circle cx="178.7" cy="350.7" r="1.75"/><circle cx="172.8" cy="392.7" r="1.75"/><circle cx="169.6" cy="373.0" r="1.75"/><circle cx="169.3" cy="346.6" r="1.75"/><circle cx="163.5" cy="393.9" r="1.75"/><circle cx="168.9" cy="343.1" r="1.75"/><circle cx="160.6" cy="365.7" r="1.75"/><circle cx="178.4" cy="351.5" r="1.75"/><circle cx="177.8" cy="356.3" r="1.75"/><circle cx="174.0" cy="375.4" r="1.75"/><circle cx="176.7" cy="357.3" r="1.75"/><circle cx="168.5" cy="375.0" r="1.75"/><circle cx="156.6" cy="368.6" r="1.75"/><circle cx="175.6" cy="385.1" r="1.75"/><circle cx="169.8" cy="361.7" r="1.75"/><circle cx="171.6" cy="351.3" r="1.75"/><circle cx="167.9" cy="372.9" r="1.75"/><circle cx="173.0" cy="345.3" r="1.75"/><circle cx="166.6" cy="324.9" r="1.75"/><circle cx="178.4" cy="354.9" r="1.75"/><circle cx="172.5" cy="344.1" r="1.75"/><circle cx="169.1" cy="373.4" r="1.75"/><circle cx="180.2" cy="339.0" r="1.75"/><circle cx="178.7" cy="361.7" r="1.75"/><circle cx="161.7" cy="373.8" r="1.75"/><circle cx="166.8" cy="359.1" r="1.75"/><circle cx="162.5" cy="368.9" r="1.75"/><circle cx="170.2" cy="361.4" r="1.75"/><circle cx="159.8" cy="354.9" r="1.75"/><circle cx="174.0" cy="388.9" r="1.75"/><circle cx="169.5" cy="391.5" r="1.75"/><circle cx="169.7" cy="343.9" r="1.75"/><circle cx="176.4" cy="346.3" r="1.75"/><circle cx="174.0" cy="384.9" r="1.75"/><circle cx="166.6" cy="362.9" r="1.75"/><circle cx="195.7" cy="369.2" r="1.75"/><circle cx="172.6" cy="379.5" r="1.75"/><circle cx="168.8" cy="363.0" r="1.75"/><circle cx="173.8" cy="319.2" r="1.75"/><circle cx="184.7" cy="344.4" r="1.75"/><circle cx="158.5" cy="374.9" r="1.75"/><circle cx="170.1" cy="340.9" r="1.75"/><circle cx="172.0" cy="343.0" r="1.75"/><circle cx="162.5" cy="336.1" r="1.75"/><circle cx="161.1" cy="372.2" r="1.75"/><circle cx="171.1" cy="370.5" r="1.75"/><circle cx="179.5" cy="363.8" r="1.75"/><circle cx="162.9" cy="359.4" r="1.75"/><circle cx="187.1" cy="365.3" r="1.75"/><circle cx="173.2" cy="362.8" r="1.75"/><circle cx="172.4" cy="372.8" r="1.75"/><circle cx="169.7" cy="361.7" r="1.75"/><circle cx="161.6" cy="348.6" r="1.75"/><circle cx="174.1" cy="378.8" r="1.75"/><circle cx="179.5" cy="365.7" r="1.75"/><circle cx="161.2" cy="376.6" r="1.75"/><circle cx="176.3" cy="336.2" r="1.75"/><circle cx="178.2" cy="375.7" r="1.75"/><circle cx="187.3" cy="343.3" r="1.75"/><circle cx="156.4" cy="379.6" r="1.75"/><circle cx="151.0" cy="350.8" r="1.75"/><circle cx="158.4" cy="345.5" r="1.75"/><circle cx="149.9" cy="360.2" r="1.75"/><circle cx="180.0" cy="373.1" r="1.75"/><circle cx="174.5" cy="358.0" r="1.75"/><circle cx="185.0" cy="374.7" r="1.75"/><circle cx="180.9" cy="335.4" r="1.75"/><circle cx="173.5" cy="343.1" r="1.75"/><circle cx="173.5" cy="368.6" r="1.75"/><circle cx="158.1" cy="368.2" r="1.75"/><circle cx="182.1" cy="374.4" r="1.75"/><circle cx="176.1" cy="348.6" r="1.75"/><circle cx="162.9" cy="343.9" r="1.75"/><circle cx="171.4" cy="387.5" r="1.75"/><circle cx="174.5" cy="364.9" r="1.75"/><circle cx="158.3" cy="373.4" r="1.75"/><circle cx="167.5" cy="328.9" r="1.75"/><circle cx="151.9" cy="358.6" r="1.75"/><circle cx="160.6" cy="396.3" r="1.75"/><circle cx="170.4" cy="345.4" r="1.75"/><circle cx="164.9" cy="395.2" r="1.75"/><circle cx="160.1" cy="379.6" r="1.75"/><circle cx="174.6" cy="392.8" r="1.75"/><circle cx="175.6" cy="357.5" r="1.75"/><circle cx="175.6" cy="366.3" r="1.75"/><circle cx="180.2" cy="363.9" r="1.75"/><circle cx="190.7" cy="363.2" r="1.75"/><circle cx="174.7" cy="352.7" r="1.75"/><circle cx="171.4" cy="365.7" r="1.75"/><circle cx="171.9" cy="382.2" r="1.75"/><circle cx="164.5" cy="349.2" r="1.75"/><circle cx="181.7" cy="359.8" r="1.75"/><circle cx="163.1" cy="387.1" r="1.75"/><circle cx="166.2" cy="380.1" r="1.75"/><circle cx="178.9" cy="355.6" r="1.75"/><circle cx="186.5" cy="350.3" r="1.75"/><circle cx="167.8" cy="367.8" r="1.75"/><circle cx="170.1" cy="380.6" r="1.75"/><circle cx="180.9" cy="364.6" r="1.75"/><circle cx="184.8" cy="352.5" r="1.75"/><circle cx="168.0" cy="398.0" r="1.75"/><circle cx="171.3" cy="385.7" r="1.75"/><circle cx="165.8" cy="360.5" r="1.75"/><circle cx="169.2" cy="368.8" r="1.75"/><circle cx="166.8" cy="365.9" r="1.75"/><circle cx="177.3" cy="388.4" r="1.75"/><circle cx="171.5" cy="377.9" r="1.75"/><circle cx="179.9" cy="345.3" r="1.75"/><circle cx="153.9" cy="396.2" r="1.75"/><circle cx="184.1" cy="366.7" r="1.75"/><circle cx="174.0" cy="347.8" r="1.75"/><circle cx="155.9" cy="371.6" r="1.75"/><circle cx="154.8" cy="382.9" r="1.75"/><circle cx="163.2" cy="371.1" r="1.75"/><circle cx="167.5" cy="385.8" r="1.75"/><circle cx="159.6" cy="354.5" r="1.75"/><circle cx="174.2" cy="391.8" r="1.75"/><circle cx="164.3" cy="375.8" r="1.75"/><circle cx="171.4" cy="341.7" r="1.75"/><circle cx="168.9" cy="393.9" r="1.75"/><circle cx="169.3" cy="375.0" r="1.75"/><circle cx="179.0" cy="351.6" r="1.75"/><circle cx="183.2" cy="394.0" r="1.75"/><circle cx="187.0" cy="390.4" r="1.75"/><circle cx="165.4" cy="354.4" r="1.75"/><circle cx="162.0" cy="348.3" r="1.75"/><circle cx="161.9" cy="384.2" r="1.75"/><circle cx="185.6" cy="353.3" r="1.75"/><circle cx="178.7" cy="341.5" r="1.75"/><circle cx="166.8" cy="346.5" r="1.75"/><circle cx="153.2" cy="366.4" r="1.75"/><circle cx="171.0" cy="357.6" r="1.75"/><circle cx="164.7" cy="346.6" r="1.75"/><circle cx="168.8" cy="353.9" r="1.75"/><circle cx="172.7" cy="342.4" r="1.75"/><circle cx="172.5" cy="374.9" r="1.75"/><circle cx="183.2" cy="385.1" r="1.75"/><circle cx="172.1" cy="352.3" r="1.75"/><circle cx="150.9" cy="365.1" r="1.75"/><circle cx="184.9" cy="396.6" r="1.75"/><circle cx="166.4" cy="345.4" r="1.75"/><circle cx="172.0" cy="365.9" r="1.75"/><circle cx="164.7" cy="364.5" r="1.75"/><circle cx="153.4" cy="346.7" r="1.75"/><circle cx="160.7" cy="382.2" r="1.75"/><circle cx="153.0" cy="361.1" r="1.75"/><circle cx="178.2" cy="364.1" r="1.75"/><circle cx="178.6" cy="352.7" r="1.75"/><circle cx="174.6" cy="382.3" r="1.75"/><circle cx="193.5" cy="378.9" r="1.75"/><circle cx="185.1" cy="365.4" r="1.75"/><circle cx="171.1" cy="395.0" r="1.75"/><circle cx="176.2" cy="392.1" r="1.75"/><circle cx="177.6" cy="405.5" r="1.75"/><circle cx="195.1" cy="349.4" r="1.75"/><circle cx="189.7" cy="373.6" r="1.75"/><circle cx="175.2" cy="363.1" r="1.75"/><circle cx="177.7" cy="344.3" r="1.75"/><circle cx="162.6" cy="350.9" r="1.75"/><circle cx="173.3" cy="382.9" r="1.75"/><circle cx="178.0" cy="372.5" r="1.75"/><circle cx="164.1" cy="332.1" r="1.75"/><circle cx="174.5" cy="368.3" r="1.75"/><circle cx="174.0" cy="392.7" r="1.75"/><circle cx="168.4" cy="361.7" r="1.75"/><circle cx="146.0" cy="376.2" r="1.75"/><circle cx="169.8" cy="351.5" r="1.75"/><circle cx="174.4" cy="345.7" r="1.75"/><circle cx="164.6" cy="402.8" r="1.75"/><circle cx="178.2" cy="383.1" r="1.75"/><circle cx="178.2" cy="377.7" r="1.75"/><circle cx="172.3" cy="408.9" r="1.75"/><circle cx="169.5" cy="379.5" r="1.75"/><circle cx="168.0" cy="358.8" r="1.75"/><circle cx="186.5" cy="393.7" r="1.75"/><circle cx="165.6" cy="364.8" r="1.75"/><circle cx="176.7" cy="346.5" r="1.75"/><circle cx="188.8" cy="345.6" r="1.75"/><circle cx="186.1" cy="366.4" r="1.75"/><circle cx="187.2" cy="346.3" r="1.75"/><circle cx="173.7" cy="366.7" r="1.75"/><circle cx="172.2" cy="404.7" r="1.75"/><circle cx="165.9" cy="382.2" r="1.75"/><circle cx="184.3" cy="375.9" r="1.75"/><circle cx="176.1" cy="374.4" r="1.75"/><circle cx="160.7" cy="369.9" r="1.75"/><circle cx="187.0" cy="346.3" r="1.75"/><circle cx="171.0" cy="381.1" r="1.75"/><circle cx="155.8" cy="362.6" r="1.75"/><circle cx="152.3" cy="353.7" r="1.75"/><circle cx="155.3" cy="348.1" r="1.75"/><circle cx="164.9" cy="359.9" r="1.75"/><circle cx="167.9" cy="319.4" r="1.75"/><circle cx="186.7" cy="359.8" r="1.75"/><circle cx="158.5" cy="353.1" r="1.75"/><circle cx="173.3" cy="346.0" r="1.75"/><circle cx="165.7" cy="356.1" r="1.75"/><circle cx="175.7" cy="350.8" r="1.75"/><circle cx="174.8" cy="371.6" r="1.75"/><circle cx="168.4" cy="388.6" r="1.75"/><circle cx="170.2" cy="342.6" r="1.75"/><circle cx="173.1" cy="367.3" r="1.75"/><circle cx="169.6" cy="369.4" r="1.75"/><circle cx="194.7" cy="369.4" r="1.75"/><circle cx="174.8" cy="360.3" r="1.75"/><circle cx="183.8" cy="363.9" r="1.75"/><circle cx="161.6" cy="341.8" r="1.75"/><circle cx="175.5" cy="379.1" r="1.75"/><circle cx="153.3" cy="351.2" r="1.75"/><circle cx="176.7" cy="384.5" r="1.75"/><circle cx="156.1" cy="357.2" r="1.75"/><circle cx="178.7" cy="354.8" r="1.75"/><circle cx="165.3" cy="354.7" r="1.75"/><circle cx="156.3" cy="365.9" r="1.75"/><circle cx="173.2" cy="338.3" r="1.75"/><circle cx="171.0" cy="386.0" r="1.75"/><circle cx="172.2" cy="383.0" r="1.75"/><circle cx="164.2" cy="391.0" r="1.75"/><circle cx="161.7" cy="400.8" r="1.75"/><circle cx="165.3" cy="351.3" r="1.75"/><circle cx="160.6" cy="357.1" r="1.75"/><circle cx="164.8" cy="351.9" r="1.75"/><circle cx="166.5" cy="377.6" r="1.75"/><circle cx="179.2" cy="358.5" r="1.75"/><circle cx="182.9" cy="346.0" r="1.75"/><circle cx="159.2" cy="343.5" r="1.75"/><circle cx="176.3" cy="335.5" r="1.75"/><circle cx="155.3" cy="389.2" r="1.75"/><circle cx="187.9" cy="390.4" r="1.75"/><circle cx="154.3" cy="365.1" r="1.75"/><circle cx="178.7" cy="366.7" r="1.75"/><circle cx="152.9" cy="358.4" r="1.75"/><circle cx="152.1" cy="341.5" r="1.75"/><circle cx="192.5" cy="377.8" r="1.75"/><circle cx="154.5" cy="336.3" r="1.75"/><circle cx="174.7" cy="353.3" r="1.75"/><circle cx="176.0" cy="352.5" r="1.75"/><circle cx="167.8" cy="369.4" r="1.75"/><circle cx="159.1" cy="328.3" r="1.75"/><circle cx="157.4" cy="351.5" r="1.75"/><circle cx="167.7" cy="363.7" r="1.75"/><circle cx="169.2" cy="374.5" r="1.75"/><circle cx="160.5" cy="391.3" r="1.75"/><circle cx="190.9" cy="371.7" r="1.75"/><circle cx="171.8" cy="388.4" r="1.75"/><circle cx="176.7" cy="368.3" r="1.75"/><circle cx="168.1" cy="350.7" r="1.75"/><circle cx="157.6" cy="377.3" r="1.75"/><circle cx="182.3" cy="344.6" r="1.75"/><circle cx="169.1" cy="368.8" r="1.75"/><circle cx="165.4" cy="350.2" r="1.75"/><circle cx="165.7" cy="327.3" r="1.75"/><circle cx="169.2" cy="359.1" r="1.75"/><circle cx="192.1" cy="382.5" r="1.75"/><circle cx="166.2" cy="364.5" r="1.75"/><circle cx="187.8" cy="395.2" r="1.75"/><circle cx="171.8" cy="362.2" r="1.75"/><circle cx="154.6" cy="358.5" r="1.75"/><circle cx="168.0" cy="350.7" r="1.75"/><circle cx="188.0" cy="329.0" r="1.75"/><circle cx="168.4" cy="372.4" r="1.75"/><circle cx="174.4" cy="396.7" r="1.75"/><circle cx="155.1" cy="350.5" r="1.75"/><circle cx="170.8" cy="367.2" r="1.75"/><circle cx="165.8" cy="350.1" r="1.75"/><circle cx="181.1" cy="344.7" r="1.75"/><circle cx="163.8" cy="392.0" r="1.75"/><circle cx="188.0" cy="381.2" r="1.75"/><circle cx="160.8" cy="348.5" r="1.75"/><circle cx="160.4" cy="343.1" r="1.75"/><circle cx="165.4" cy="388.8" r="1.75"/><circle cx="172.1" cy="350.3" r="1.75"/><circle cx="161.6" cy="342.3" r="1.75"/><circle cx="182.5" cy="326.2" r="1.75"/><circle cx="172.6" cy="337.2" r="1.75"/><circle cx="158.6" cy="336.3" r="1.75"/><circle cx="179.8" cy="363.0" r="1.75"/><circle cx="158.2" cy="375.7" r="1.75"/><circle cx="175.6" cy="359.1" r="1.75"/><circle cx="148.4" cy="391.8" r="1.75"/><circle cx="175.6" cy="371.9" r="1.75"/><circle cx="163.4" cy="376.5" r="1.75"/><circle cx="163.7" cy="365.1" r="1.75"/><circle cx="167.6" cy="388.1" r="1.75"/><circle cx="164.6" cy="357.6" r="1.75"/><circle cx="181.1" cy="368.4" r="1.75"/><circle cx="169.3" cy="359.5" r="1.75"/><circle cx="179.5" cy="351.7" r="1.75"/><circle cx="174.4" cy="402.6" r="1.75"/><circle cx="173.6" cy="349.1" r="1.75"/><circle cx="156.8" cy="366.7" r="1.75"/><circle cx="156.5" cy="333.6" r="1.75"/><circle cx="161.4" cy="343.1" r="1.75"/><circle cx="178.6" cy="336.3" r="1.75"/><circle cx="186.0" cy="349.5" r="1.75"/><circle cx="170.6" cy="376.5" r="1.75"/><circle cx="171.7" cy="377.4" r="1.75"/><circle cx="158.9" cy="320.5" r="1.75"/><circle cx="167.2" cy="331.7" r="1.75"/><circle cx="163.1" cy="381.6" r="1.75"/><circle cx="167.2" cy="352.3" r="1.75"/><circle cx="157.3" cy="358.0" r="1.75"/><circle cx="167.4" cy="333.4" r="1.75"/><circle cx="172.3" cy="343.0" r="1.75"/><circle cx="171.5" cy="354.9" r="1.75"/><circle cx="179.5" cy="379.7" r="1.75"/><circle cx="169.2" cy="361.4" r="1.75"/><circle cx="173.8" cy="389.8" r="1.75"/><circle cx="180.4" cy="366.7" r="1.75"/><circle cx="172.6" cy="393.8" r="1.75"/><circle cx="152.2" cy="374.2" r="1.75"/><circle cx="160.0" cy="389.8" r="1.75"/><circle cx="164.3" cy="362.0" r="1.75"/><circle cx="158.1" cy="364.5" r="1.75"/><circle cx="177.9" cy="396.2" r="1.75"/><circle cx="156.4" cy="356.1" r="1.75"/><circle cx="169.7" cy="374.6" r="1.75"/><circle cx="171.5" cy="337.5" r="1.75"/><circle cx="182.2" cy="352.9" r="1.75"/><circle cx="159.1" cy="374.9" r="1.75"/><circle cx="174.2" cy="356.2" r="1.75"/><circle cx="169.2" cy="339.4" r="1.75"/><circle cx="154.8" cy="382.1" r="1.75"/><circle cx="183.8" cy="373.2" r="1.75"/><circle cx="173.9" cy="357.5" r="1.75"/><circle cx="168.6" cy="347.2" r="1.75"/><circle cx="188.5" cy="354.2" r="1.75"/><circle cx="174.3" cy="365.0" r="1.75"/><circle cx="155.3" cy="401.8" r="1.75"/><circle cx="166.1" cy="350.4" r="1.75"/><circle cx="171.2" cy="347.9" r="1.75"/><circle cx="170.3" cy="346.8" r="1.75"/><circle cx="175.9" cy="366.1" r="1.75"/><circle cx="155.6" cy="384.7" r="1.75"/><circle cx="172.0" cy="344.0" r="1.75"/><circle cx="173.8" cy="373.2" r="1.75"/><circle cx="189.6" cy="348.7" r="1.75"/><circle cx="179.0" cy="363.3" r="1.75"/><circle cx="176.5" cy="360.1" r="1.75"/><circle cx="169.5" cy="374.6" r="1.75"/><circle cx="157.6" cy="325.1" r="1.75"/><circle cx="170.0" cy="356.7" r="1.75"/><circle cx="171.0" cy="377.5" r="1.75"/><circle cx="167.9" cy="388.0" r="1.75"/><circle cx="169.7" cy="367.5" r="1.75"/><circle cx="179.0" cy="376.6" r="1.75"/><circle cx="169.3" cy="367.9" r="1.75"/><circle cx="162.3" cy="353.8" r="1.75"/><circle cx="171.4" cy="381.1" r="1.75"/><circle cx="165.7" cy="381.6" r="1.75"/><circle cx="170.7" cy="385.8" r="1.75"/><circle cx="176.9" cy="380.8" r="1.75"/><circle cx="179.3" cy="375.8" r="1.75"/><circle cx="179.2" cy="369.6" r="1.75"/><circle cx="167.8" cy="370.8" r="1.75"/><circle cx="175.7" cy="389.3" r="1.75"/><circle cx="174.5" cy="380.2" r="1.75"/><circle cx="185.6" cy="348.3" r="1.75"/><circle cx="167.8" cy="376.3" r="1.75"/><circle cx="170.9" cy="346.7" r="1.75"/><circle cx="181.0" cy="364.7" r="1.75"/><circle cx="160.0" cy="402.1" r="1.75"/><circle cx="157.1" cy="365.7" r="1.75"/><circle cx="163.5" cy="368.1" r="1.75"/><circle cx="176.5" cy="350.4" r="1.75"/><circle cx="169.4" cy="363.4" r="1.75"/><circle cx="160.0" cy="388.1" r="1.75"/><circle cx="172.3" cy="360.4" r="1.75"/><circle cx="163.5" cy="359.5" r="1.75"/><circle cx="172.0" cy="357.1" r="1.75"/><circle cx="147.9" cy="361.0" r="1.75"/><circle cx="151.1" cy="364.5" r="1.75"/><circle cx="163.5" cy="376.9" r="1.75"/><circle cx="174.8" cy="390.7" r="1.75"/><circle cx="180.2" cy="389.7" r="1.75"/><circle cx="176.0" cy="386.2" r="1.75"/><circle cx="175.7" cy="354.6" r="1.75"/><circle cx="157.3" cy="342.8" r="1.75"/><circle cx="175.6" cy="320.5" r="1.75"/><circle cx="172.3" cy="351.5" r="1.75"/><circle cx="178.2" cy="369.7" r="1.75"/><circle cx="162.6" cy="366.1" r="1.75"/><circle cx="146.5" cy="371.0" r="1.75"/><circle cx="175.4" cy="330.9" r="1.75"/><circle cx="179.5" cy="363.6" r="1.75"/><circle cx="172.3" cy="338.9" r="1.75"/><circle cx="176.9" cy="377.0" r="1.75"/><circle cx="170.4" cy="347.2" r="1.75"/><circle cx="178.5" cy="389.7" r="1.75"/><circle cx="174.8" cy="385.1" r="1.75"/><circle cx="164.4" cy="369.0" r="1.75"/><circle cx="174.6" cy="368.9" r="1.75"/><circle cx="164.8" cy="382.1" r="1.75"/><circle cx="159.4" cy="373.4" r="1.75"/><circle cx="178.9" cy="357.2" r="1.75"/><circle cx="167.5" cy="348.7" r="1.75"/><circle cx="172.3" cy="353.8" r="1.75"/><circle cx="189.2" cy="379.1" r="1.75"/><circle cx="168.6" cy="339.9" r="1.75"/><circle cx="192.4" cy="391.6" r="1.75"/><circle cx="176.0" cy="370.7" r="1.75"/><circle cx="172.9" cy="358.1" r="1.75"/><circle cx="190.9" cy="370.9" r="1.75"/><circle cx="156.0" cy="354.5" r="1.75"/><circle cx="144.0" cy="379.5" r="1.75"/><circle cx="179.1" cy="400.7" r="1.75"/><circle cx="193.1" cy="352.1" r="1.75"/><circle cx="175.8" cy="385.9" r="1.75"/><circle cx="179.4" cy="357.2" r="1.75"/><circle cx="179.5" cy="376.3" r="1.75"/><circle cx="185.4" cy="366.3" r="1.75"/><circle cx="168.5" cy="357.1" r="1.75"/><circle cx="167.0" cy="352.2" r="1.75"/><circle cx="167.4" cy="376.3" r="1.75"/><circle cx="175.8" cy="391.8" r="1.75"/><circle cx="182.4" cy="378.5" r="1.75"/><circle cx="158.8" cy="377.4" r="1.75"/><circle cx="183.1" cy="341.7" r="1.75"/><circle cx="159.1" cy="348.3" r="1.75"/><circle cx="159.8" cy="360.8" r="1.75"/><circle cx="160.9" cy="373.6" r="1.75"/><circle cx="157.9" cy="363.8" r="1.75"/><circle cx="165.4" cy="347.7" r="1.75"/><circle cx="181.5" cy="366.6" r="1.75"/><circle cx="176.3" cy="359.8" r="1.75"/><circle cx="178.0" cy="377.8" r="1.75"/><circle cx="169.0" cy="332.4" r="1.75"/><circle cx="179.2" cy="379.2" r="1.75"/><circle cx="172.5" cy="370.7" r="1.75"/><circle cx="171.9" cy="369.8" r="1.75"/><circle cx="160.0" cy="365.0" r="1.75"/><circle cx="173.9" cy="354.5" r="1.75"/><circle cx="160.4" cy="401.4" r="1.75"/><circle cx="182.3" cy="310.1" r="1.75"/><circle cx="173.5" cy="312.3" r="1.75"/><circle cx="166.1" cy="293.3" r="1.75"/><circle cx="187.8" cy="319.9" r="1.75"/><circle cx="171.9" cy="295.3" r="1.75"/><circle cx="182.8" cy="298.3" r="1.75"/><circle cx="187.0" cy="296.4" r="1.75"/><circle cx="176.1" cy="318.6" r="1.75"/><circle cx="184.3" cy="318.5" r="1.75"/><circle cx="189.7" cy="303.9" r="1.75"/><circle cx="171.9" cy="312.5" r="1.75"/><circle cx="173.4" cy="303.8" r="1.75"/><circle cx="169.5" cy="296.7" r="1.75"/><circle cx="171.7" cy="318.3" r="1.75"/><circle cx="182.7" cy="320.6" r="1.75"/><circle cx="184.5" cy="298.7" r="1.75"/><circle cx="173.5" cy="310.8" r="1.75"/><circle cx="182.0" cy="294.0" r="1.75"/></g><g fill="#e41a1c" fill-opacity="0.21"><circle cx="398.4" cy="228.6" r="1.75"/><circle cx="411.3" cy="235.6" r="1.75"/><circle cx="402.2" cy="224.8" r="1.75"/><circle cx="400.7" cy="234.5" r="1.75"/><circle cx="406.6" cy="225.8" r="1.75"/><circle cx="398.9" cy="234.0" r="1.75"/><circle cx="393.3" cy="238.1" r="1.75"/><circle cx="401.2" cy="229.1" r="1.75"/><circle cx="383.8" cy="216.9" r="1.75"/><circle cx="393.6" cy="225.3" r="1.75"/><circle cx="393.2" cy="233.1" r="1.75"/><circle cx="402.0" cy="227.8" r="1.75"/><circle cx="386.4" cy="241.6" r="1.75"/><circle cx="399.0" cy="234.9" r="1.75"/><circle cx="396.2" cy="230.0" r="1.75"/><circle cx="406.0" cy="231.9" r="1.75"/><circle cx="407.9" cy="228.5" r="1.75"/><circle cx="415.3" cy="214.3" r="1.75"/><circle cx="397.0" cy="238.1" r="1.75"/><circle cx="399.1" cy="226.3" r="1.75"/><circle cx="388.2" cy="239.9" r="1.75"/><circle cx="387.3" cy="234.1" r="1.75"/><circle cx="402.3" cy="237.2" r="1.75"/><circle cx="411.4" cy="224.1" r="1.75"/><circle cx="395.1" cy="227.2" r="1.75"/><circle cx="388.5" cy="236.7" r="1.75"/><circle cx="398.0" cy="231.1" r="1.75"/><circle cx="392.7" cy="229.9" r="1.75"/><circle cx="396.3" cy="229.1" r="1.75"/><circle cx="392.9" cy="238.3" r="1.75"/><circle cx="396.1" cy="208.5" r="1.75"/><circle cx="405.4" cy="227.2" r="1.75"/><circle cx="394.4" cy="250.5" r="1.75"/><circle cx="400.3" cy="218.6" r="1.75"/><circle cx="396.3" cy="232.8" r="1.75"/><circle cx="399.1" cy="240.0" r="1.75"/><circle cx="408.4" cy="223.1" r="1.75"/><circle cx="401.0" cy="235.0" r="1.75"/><circle cx="397.7" cy="225.8" r="1.75"/><circle cx="407.0" cy="233.4" r="1.75"/><circle cx="390.6" cy="225.1" r="1.75"/><circle cx="397.7" cy="228.7" r="1.75"/><circle cx="395.5" cy="240.8" r="1.75"/><circle cx="393.7" cy="220.6" r="1.75"/><circle cx="402.2" cy="211.0" r="1.75"/><circle cx="393.3" cy="234.9" r="1.75"/><circle cx="391.2" cy="222.7" r="1.75"/><circle cx="408.5" cy="233.5" r="1.75"/><circle cx="401.1" cy="231.7" r="1.75"/><circle cx="395.9" cy="232.3" r="1.75"/><circle cx="399.3" cy="250.5" r="1.75"/><circle cx="404.6" cy="226.9" r="1.75"/><circle cx="400.4" cy="230.2" r="1.75"/><circle cx="390.9" cy="222.9" r="1.75"/><circle cx="411.8" cy="218.1" r="1.75"/><circle cx="396.6" cy="238.3" r="1.75"/><circle cx="411.7" cy="221.3" r="1.75"/><circle cx="411.4" cy="226.8" r="1.75"/><circle cx="412.8" cy="234.0" r="1.75"/><circle cx="398.8" cy="235.9" r="1.75"/><circle cx="404.9" cy="223.4" r="1.75"/><circle cx="416.4" cy="227.0" r="1.75"/><circle cx="409.2" cy="225.9" r="1.75"/><circle cx="387.7" cy="220.6" r="1.75"/><circle cx="400.2" cy="235.6" r="1.75"/><circle cx="413.6" cy="230.6" r="1.75"/><circle cx="398.9" cy="219.7" r="1.75"/><circle cx="400.6" cy="232.4" r="1.75"/><circle cx="385.0" cy="240.7" r="1.75"/><circle cx="409.1" cy="248.8" r="1.75"/><circle cx="394.3" cy="230.2" r="1.75"/><circle cx="401.0" cy="218.9" r="1.75"/><circle cx="394.8" cy="221.7" r="1.75"/><circle cx="404.6" cy="233.4" r="1.75"/><circle cx="410.6" cy="226.5" r="1.75"/><circle cx="390.8" cy="233.5" r="1.75"/><circle cx="403.5" cy="235.4" r="1.75"/><circle cx="409.8" cy="225.0" r="1.75"/><circle cx="406.6" cy="221.5" r="1.75"/><circle cx="402.0" cy="235.6" r="1.75"/><circle cx="400.0" cy="231.6" r="1.75"/><circle cx="390.8" cy="224.4" r="1.75"/><circle cx="401.9" cy="219.8" r="1.75"/><circle cx="394.7" cy="250.0" r="1.75"/><circle cx="402.7" cy="222.9" r="1.75"/><circle cx="393.3" cy="241.2" r="1.75"/><circle cx="380.5" cy="226.6" r="1.75"/><circle cx="404.9" cy="224.6" r="1.75"/><circle cx="404.1" cy="220.4" r="1.75"/><circle cx="400.1" cy="229.4" r="1.75"/><circle cx="400.3" cy="230.2" r="1.75"/><circle cx="400.4" cy="238.3" r="1.75"/><circle cx="398.2" cy="224.1" r="1.75"/><circle cx="398.1" cy="226.4" r="1.75"/><circle cx="389.1" cy="213.1" r="1.75"/><circle cx="390.3" cy="231.3" r="1.75"/><circle cx="395.2" cy="225.5" r="1.75"/><circle cx="420.7" cy="238.2" r="1.75"/><circle cx="398.5" cy="223.6" r="1.75"/><circle cx="410.0" cy="222.4" r="1.75"/><circle cx="409.0" cy="233.8" r="1.75"/><circle cx="410.0" cy="222.9" r="1.75"/><circle cx="406.5" cy="213.8" r="1.75"/><circle cx="398.8" cy="237.8" r="1.75"/><circle cx="405.0" cy="213.6" r="1.75"/><circle cx="405.0" cy="232.6" r="1.75"/><circle cx="399.5" cy="222.8" r="1.75"/><circle cx="398.0" cy="224.1" r="1.75"/><circle cx="406.8" cy="232.7" r="1.75"/><circle cx="407.7" cy="234.6" r="1.75"/><circle cx="390.8" cy="230.0" r="1.75"/><circle cx="415.4" cy="219.6" r="1.75"/><circle cx="402.0" cy="222.4" r="1.75"/><circle cx="393.6" cy="230.6" r="1.75"/><circle cx="406.6" cy="235.2" r="1.75"/><circle cx="403.3" cy="236.7" r="1.75"/><circle cx="388.2" cy="235.6" r="1.75"/><circle cx="402.9" cy="227.3" r="1.75"/><circle cx="399.9" cy="221.7" r="1.75"/><circle cx="408.4" cy="222.6" r="1.75"/><circle cx="389.3" cy="228.8" r="1.75"/><circle cx="395.8" cy="228.2" r="1.75"/><circle cx="410.9" cy="227.7" r="1.75"/><circle cx="400.9" cy="247.7" r="1.75"/><circle cx="389.9" cy="231.9" r="1.75"/><circle cx="408.4" cy="241.4" r="1.75"/><circle cx="416.2" cy="223.4" r="1.75"/><circle cx="404.4" cy="228.1" r="1.75"/><circle cx="396.8" cy="222.9" r="1.75"/><circle cx="389.5" cy="231.7" r="1.75"/><circle cx="405.5" cy="220.1" r="1.75"/><circle cx="405.6" cy="224.3" r="1.75"/><circle cx="392.7" cy="207.0" r="1.75"/><circle cx="408.0" cy="234.9" r="1.75"/><circle cx="397.8" cy="225.7" r="1.75"/><circle cx="390.7" cy="233.3" r="1.75"/><circle cx="399.6" cy="233.5" r="1.75"/><circle cx="401.4" cy="217.2" r="1.75"/><circle cx="388.8" cy="232.5" r="1.75"/><circle cx="387.9" cy="231.3" r="1.75"/><circle cx="406.7" cy="218.3" r="1.75"/><circle cx="405.1" cy="229.5" r="1.75"/><circle cx="404.1" cy="223.9" r="1.75"/><circle cx="400.2" cy="232.8" r="1.75"/><circle cx="413.6" cy="235.5" r="1.75"/><circle cx="404.1" cy="218.5" r="1.75"/><circle cx="402.9" cy="223.7" r="1.75"/><circle cx="400.0" cy="231.7" r="1.75"/><circle cx="407.6" cy="234.5" r="1.75"/><circle cx="402.0" cy="229.1" r="1.75"/><circle cx="410.5" cy="222.2" r="1.75"/><circle cx="400.9" cy="241.1" r="1.75"/><circle cx="399.3" cy="236.6" r="1.75"/><circle cx="407.1" cy="246.2" r="1.75"/><circle cx="408.9" cy="215.8" r="1.75"/><circle cx="400.7" cy="232.1" r="1.75"/><circle cx="406.7" cy="232.8" r="1.75"/><circle cx="414.3" cy="238.8" r="1.75"/><circle cx="392.0" cy="224.2" r="1.75"/><circle cx="385.5" cy="243.9" r="1.75"/><circle cx="399.5" cy="228.1" r="1.75"/><circle cx="388.9" cy="225.5" r="1.75"/><circle cx="403.3" cy="225.7" r="1.75"/><circle cx="397.3" cy="223.7" r="1.75"/><circle cx="414.4" cy="224.2" r="1.75"/><circle cx="389.4" cy="224.4" r="1.75"/><circle cx="397.3" cy="227.8" r="1.75"/><circle cx="398.0" cy="219.1" r="1.75"/><circle cx="398.2" cy="231.7" r="1.75"/><circle cx="389.4" cy="245.1" r="1.75"/><circle cx="412.0" cy="213.1" r="1.75"/><circle cx="396.9" cy="236.9" r="1.75"/><circle cx="409.4" cy="243.4" r="1.75"/><circle cx="386.1" cy="219.1" r="1.75"/><circle cx="395.9" cy="233.0" r="1.75"/><circle cx="391.8" cy="232.1" r="1.75"/><circle cx="403.0" cy="234.6" r="1.75"/><circle cx="390.3" cy="230.2" r="1.75"/><circle cx="400.3" cy="225.1" r="1.75"/><circle cx="409.3" cy="226.2" r="1.75"/><circle cx="410.5" cy="223.7" r="1.75"/><circle cx="412.4" cy="242.7" r="1.75"/><circle cx="394.0" cy="231.7" r="1.75"/><circle cx="402.4" cy="220.7" r="1.75"/><circle cx="405.9" cy="234.0" r="1.75"/><circle cx="393.8" cy="229.9" r="1.75"/><circle cx="406.7" cy="227.8" r="1.75"/><circle cx="395.0" cy="243.0" r="1.75"/><circle cx="393.1" cy="232.1" r="1.75"/><circle cx="408.6" cy="236.0" r="1.75"/><circle cx="387.0" cy="226.6" r="1.75"/><circle cx="399.5" cy="227.7" r="1.75"/><circle cx="405.1" cy="234.1" r="1.75"/><circle cx="401.6" cy="231.8" r="1.75"/><circle cx="408.1" cy="240.2" r="1.75"/><circle cx="386.9" cy="248.1" r="1.75"/><circle cx="396.7" cy="236.3" r="1.75"/><circle cx="388.9" cy="225.4" r="1.75"/><circle cx="391.6" cy="239.0" r="1.75"/><circle cx="407.3" cy="229.9" r="1.75"/><circle cx="399.6" cy="233.1" r="1.75"/><circle cx="394.0" cy="224.7" r="1.75"/><circle cx="395.3" cy="236.8" r="1.75"/><circle cx="401.1" cy="219.1" r="1.75"/><circle cx="403.4" cy="234.3" r="1.75"/><circle cx="411.0" cy="225.2" r="1.75"/><circle cx="403.8" cy="247.4" r="1.75"/><circle cx="398.5" cy="226.8" r="1.75"/><circle cx="404.6" cy="225.6" r="1.75"/><circle cx="400.9" cy="225.6" r="1.75"/><circle cx="395.1" cy="237.3" r="1.75"/><circle cx="398.1" cy="221.4" r="1.75"/><circle cx="398.8" cy="228.6" r="1.75"/><circle cx="403.0" cy="237.7" r="1.75"/><circle cx="413.8" cy="219.5" r="1.75"/><circle cx="399.0" cy="214.4" r="1.75"/><circle cx="402.4" cy="234.1" r="1.75"/><circle cx="396.0" cy="222.0" r="1.75"/><circle cx="393.5" cy="217.0" r="1.75"/><circle cx="405.3" cy="245.7" r="1.75"/><circle cx="392.3" cy="243.3" r="1.75"/><circle cx="399.8" cy="217.8" r="1.75"/><circle cx="404.7" cy="235.9" r="1.75"/><circle cx="403.4" cy="227.3" r="1.75"/><circle cx="412.7" cy="227.0" r="1.75"/><circle cx="405.1" cy="234.9" r="1.75"/><circle cx="393.9" cy="213.8" r="1.75"/><circle cx="387.8" cy="226.0" r="1.75"/><circle cx="403.0" cy="214.4" r="1.75"/><circle cx="395.1" cy="242.2" r="1.75"/><circle cx="387.3" cy="233.2" r="1.75"/><circle cx="402.9" cy="235.9" r="1.75"/><circle cx="389.6" cy="232.1" r="1.75"/><circle cx="390.2" cy="240.5" r="1.75"/><circle cx="394.0" cy="232.4" r="1.75"/><circle cx="394.5" cy="230.4" r="1.75"/><circle cx="389.1" cy="231.6" r="1.75"/><circle cx="404.7" cy="229.1" r="1.75"/><circle cx="412.1" cy="232.3" r="1.75"/><circle cx="406.0" cy="233.4" r="1.75"/><circle cx="414.0" cy="223.6" r="1.75"/><circle cx="398.3" cy="227.3" r="1.75"/><circle cx="404.8" cy="231.4" r="1.75"/><circle cx="406.4" cy="231.7" r="1.75"/><circle cx="396.6" cy="228.7" r="1.75"/><circle cx="403.6" cy="210.0" r="1.75"/><circle cx="410.6" cy="224.5" r="1.75"/><circle cx="397.8" cy="231.5" r="1.75"/><circle cx="398.6" cy="217.1" r="1.75"/><circle cx="398.8" cy="241.1" r="1.75"/><circle cx="408.2" cy="239.9" r="1.75"/><circle cx="396.5" cy="227.7" r="1.75"/><circle cx="408.3" cy="242.1" r="1.75"/><circle cx="400.9" cy="221.4" r="1.75"/><circle cx="386.5" cy="241.6" r="1.75"/><circle cx="389.5" cy="233.3" r="1.75"/><circle cx="402.2" cy="228.8" r="1.75"/><circle cx="404.2" cy="234.2" r="1.75"/><circle cx="410.8" cy="235.7" r="1.75"/><circle cx="395.3" cy="211.9" r="1.75"/><circle cx="403.1" cy="224.2" r="1.75"/><circle cx="411.4" cy="218.7" r="1.75"/><circle cx="402.4" cy="223.7" r="1.75"/><circle cx="394.5" cy="244.2" r="1.75"/><circle cx="402.2" cy="228.4" r="1.75"/><circle cx="406.5" cy="223.3" r="1.75"/><circle cx="398.3" cy="224.5" r="1.75"/><circle cx="415.7" cy="232.8" r="1.75"/><circle cx="405.7" cy="239.5" r="1.75"/><circle cx="399.6" cy="228.7" r="1.75"/><circle cx="388.8" cy="234.1" r="1.75"/><circle cx="402.9" cy="226.5" r="1.75"/><circle cx="409.9" cy="214.7" r="1.75"/><circle cx="404.1" cy="218.2" r="1.75"/><circle cx="392.5" cy="228.2" r="1.75"/><circle cx="410.9" cy="219.8" r="1.75"/><circle cx="393.5" cy="219.6" r="1.75"/><circle cx="416.0" cy="234.5" r="1.75"/><circle cx="404.0" cy="247.7" r="1.75"/><circle cx="402.8" cy="211.9" r="1.75"/><circle cx="397.2" cy="219.7" r="1.75"/><circle cx="416.1" cy="217.8" r="1.75"/><circle cx="403.2" cy="225.5" r="1.75"/><circle cx="397.7" cy="230.1" r="1.75"/><circle cx="400.0" cy="224.1" r="1.75"/><circle cx="391.7" cy="224.3" r="1.75"/><circle cx="393.1" cy="222.1" r="1.75"/><circle cx="401.8" cy="228.6" r="1.75"/><circle cx="404.5" cy="227.9" r="1.75"/><circle cx="415.3" cy="223.6" r="1.75"/><circle cx="393.4" cy="238.7" r="1.75"/><circle cx="395.6" cy="231.0" r="1.75"/><circle cx="408.2" cy="229.1" r="1.75"/><circle cx="398.3" cy="238.2" r="1.75"/><circle cx="403.4" cy="225.3" r="1.75"/><circle cx="391.9" cy="226.6" r="1.75"/><circle cx="388.5" cy="222.3" r="1.75"/><circle cx="392.7" cy="232.4" r="1.75"/><circle cx="406.6" cy="224.2" r="1.75"/><circle cx="397.6" cy="220.3" r="1.75"/><circle cx="390.5" cy="226.1" r="1.75"/><circle cx="405.1" cy="233.9" r="1.75"/><circle cx="405.2" cy="227.5" r="1.75"/><circle cx="380.4" cy="237.8" r="1.75"/><circle cx="410.7" cy="237.7" r="1.75"/><circle cx="407.6" cy="239.3" r="1.75"/><circle cx="420.9" cy="232.7" r="1.75"/><circle cx="412.6" cy="236.9" r="1.75"/><circle cx="406.0" cy="228.8" r="1.75"/><circle cx="398.4" cy="220.3" r="1.75"/><circle cx="405.4" cy="227.3" r="1.75"/><circle cx="392.0" cy="223.4" r="1.75"/><circle cx="392.1" cy="243.8" r="1.75"/><circle cx="399.1" cy="230.9" r="1.75"/><circle cx="391.9" cy="221.1" r="1.75"/><circle cx="408.8" cy="227.9" r="1.75"/><circle cx="402.6" cy="245.8" r="1.75"/><circle cx="416.6" cy="235.9" r="1.75"/><circle cx="404.6" cy="232.0" r="1.75"/><circle cx="398.9" cy="247.4" r="1.75"/><circle cx="391.9" cy="229.2" r="1.75"/><circle cx="386.6" cy="219.1" r="1.75"/><circle cx="404.0" cy="233.9" r="1.75"/><circle cx="403.5" cy="227.2" r="1.75"/><circle cx="395.7" cy="225.3" r="1.75"/><circle cx="398.1" cy="239.4" r="1.75"/><circle cx="411.9" cy="233.8" r="1.75"/><circle cx="397.0" cy="221.9" r="1.75"/><circle cx="403.3" cy="228.0" r="1.75"/><circle cx="387.3" cy="241.8" r="1.75"/><circle cx="400.9" cy="227.2" r="1.75"/><circle cx="394.5" cy="222.5" r="1.75"/><circle cx="407.7" cy="221.9" r="1.75"/><circle cx="401.7" cy="235.5" r="1.75"/><circle cx="414.8" cy="235.2" r="1.75"/><circle cx="400.7" cy="226.2" r="1.75"/><circle cx="407.4" cy="238.7" r="1.75"/><circle cx="397.8" cy="235.1" r="1.75"/><circle cx="400.0" cy="216.0" r="1.75"/><circle cx="393.5" cy="237.0" r="1.75"/><circle cx="411.8" cy="235.9" r="1.75"/><circle cx="399.5" cy="223.8" r="1.75"/><circle cx="405.0" cy="232.9" r="1.75"/><circle cx="388.9" cy="235.6" r="1.75"/><circle cx="395.7" cy="235.8" r="1.75"/><circle cx="405.0" cy="236.3" r="1.75"/><circle cx="409.0" cy="236.1" r="1.75"/><circle cx="393.2" cy="221.2" r="1.75"/><circle cx="408.8" cy="234.1" r="1.75"/><circle cx="389.2" cy="212.7" r="1.75"/><circle cx="407.7" cy="249.2" r="1.75"/><circle cx="407.2" cy="228.0" r="1.75"/><circle cx="403.0" cy="206.5" r="1.75"/><circle cx="393.6" cy="238.8" r="1.75"/><circle cx="407.5" cy="211.7" r="1.75"/><circle cx="409.9" cy="234.6" r="1.75"/><circle cx="408.0" cy="228.3" r="1.75"/><circle cx="401.1" cy="220.7" r="1.75"/><circle cx="403.4" cy="237.8" r="1.75"/><circle cx="394.0" cy="233.2" r="1.75"/><circle cx="397.0" cy="239.0" r="1.75"/><circle cx="408.4" cy="209.7" r="1.75"/><circle cx="404.4" cy="238.8" r="1.75"/><circle cx="396.8" cy="228.2" r="1.75"/><circle cx="399.9" cy="220.1" r="1.75"/><circle cx="400.2" cy="243.4" r="1.75"/><circle cx="404.6" cy="243.2" r="1.75"/><circle cx="408.5" cy="240.4" r="1.75"/><circle cx="401.9" cy="236.7" r="1.75"/><circle cx="416.1" cy="242.7" r="1.75"/><circle cx="403.4" cy="224.0" r="1.75"/><circle cx="394.1" cy="232.1" r="1.75"/><circle cx="404.3" cy="214.2" r="1.75"/><circle cx="402.7" cy="233.0" r="1.75"/><circle cx="403.3" cy="225.3" r="1.75"/><circle cx="418.3" cy="237.6" r="1.75"/><circle cx="390.8" cy="223.9" r="1.75"/><circle cx="407.0" cy="234.4" r="1.75"/><circle cx="401.9" cy="229.7" r="1.75"/><circle cx="399.4" cy="226.1" r="1.75"/><circle cx="393.3" cy="234.9" r="1.75"/><circle cx="380.1" cy="223.6" r="1.75"/><circle cx="410.1" cy="223.1" r="1.75"/><circle cx="391.9" cy="246.1" r="1.75"/><circle cx="408.6" cy="228.5" r="1.75"/><circle cx="396.4" cy="227.7" r="1.75"/><circle cx="398.1" cy="227.6" r="1.75"/><circle cx="395.2" cy="234.3" r="1.75"/><circle cx="396.5" cy="214.0" r="1.75"/><circle cx="391.0" cy="229.6" r="1.75"/><circle cx="393.0" cy="208.3" r="1.75"/><circle cx="411.8" cy="233.8" r="1.75"/><circle cx="397.0" cy="225.0" r="1.75"/><circle cx="404.4" cy="241.3" r="1.75"/><circle cx="395.9" cy="233.0" r="1.75"/><circle cx="395.9" cy="232.2" r="1.75"/><circle cx="392.0" cy="213.7" r="1.75"/><circle cx="401.1" cy="228.8" r="1.75"/><circle cx="405.9" cy="223.6" r="1.75"/><circle cx="410.7" cy="230.2" r="1.75"/><circle cx="412.0" cy="226.5" r="1.75"/><circle cx="411.7" cy="228.8" r="1.75"/><circle cx="401.5" cy="237.7" r="1.75"/><circle cx="387.3" cy="220.2" r="1.75"/><circle cx="414.1" cy="216.4" r="1.75"/><circle cx="396.8" cy="234.1" r="1.75"/><circle cx="411.4" cy="225.0" r="1.75"/><circle cx="401.5" cy="219.7" r="1.75"/><circle cx="397.6" cy="238.2" r="1.75"/><circle cx="402.9" cy="229.2" r="1.75"/><circle cx="403.7" cy="230.6" r="1.75"/><circle cx="401.8" cy="226.4" r="1.75"/><circle cx="393.3" cy="235.3" r="1.75"/><circle cx="392.0" cy="238.3" r="1.75"/><circle cx="416.4" cy="242.5" r="1.75"/><circle cx="417.9" cy="220.6" r="1.75"/><circle cx="402.4" cy="222.5" r="1.75"/><circle cx="395.1" cy="214.9" r="1.75"/><circle cx="391.6" cy="237.0" r="1.75"/><circle cx="405.9" cy="240.0" r="1.75"/><circle cx="409.1" cy="236.4" r="1.75"/><circle cx="394.8" cy="228.8" r="1.75"/><circle cx="406.2" cy="240.5" r="1.75"/><circle cx="398.0" cy="225.6" r="1.75"/><circle cx="397.6" cy="243.5" r="1.75"/><circle cx="405.1" cy="227.2" r="1.75"/><circle cx="395.2" cy="233.6" r="1.75"/><circle cx="388.4" cy="228.0" r="1.75"/><circle cx="396.7" cy="224.9" r="1.75"/><circle cx="402.5" cy="233.5" r="1.75"/><circle cx="368.2" cy="234.0" r="1.75"/><circle cx="374.0" cy="229.7" r="1.75"/><circle cx="383.4" cy="210.4" r="1.75"/><circle cx="380.5" cy="240.2" r="1.75"/><circle cx="367.5" cy="223.5" r="1.75"/><circle cx="371.8" cy="224.9" r="1.75"/><circle cx="360.2" cy="232.4" r="1.75"/><circle cx="382.1" cy="230.1" r="1.75"/><circle cx="361.5" cy="231.4" r="1.75"/><circle cx="376.7" cy="218.2" r="1.75"/><circle cx="355.2" cy="218.9" r="1.75"/><circle cx="387.0" cy="216.7" r="1.75"/><circle cx="378.5" cy="218.6" r="1.75"/><circle cx="391.4" cy="222.3" r="1.75"/><circle cx="377.3" cy="235.4" r="1.75"/><circle cx="379.2" cy="232.3" r="1.75"/><circle cx="368.8" cy="229.9" r="1.75"/><circle cx="373.5" cy="216.3" r="1.75"/><circle cx="352.8" cy="225.4" r="1.75"/><circle cx="362.6" cy="231.1" r="1.75"/><circle cx="391.6" cy="226.6" r="1.75"/><circle cx="356.3" cy="221.9" r="1.75"/><circle cx="370.3" cy="224.8" r="1.75"/><circle cx="391.7" cy="230.5" r="1.75"/><circle cx="385.4" cy="232.0" r="1.75"/><circle cx="365.5" cy="221.4" r="1.75"/><circle cx="358.6" cy="225.0" r="1.75"/><circle cx="387.2" cy="227.0" r="1.75"/><circle cx="384.7" cy="210.5" r="1.75"/><circle cx="384.2" cy="216.6" r="1.75"/><circle cx="376.2" cy="224.9" r="1.75"/><circle cx="358.4" cy="223.8" r="1.75"/><circle cx="358.9" cy="224.6" r="1.75"/><circle cx="377.3" cy="221.1" r="1.75"/><circle cx="375.9" cy="233.4" r="1.75"/><circle cx="372.0" cy="235.0" r="1.75"/><circle cx="359.7" cy="228.3" r="1.75"/><circle cx="360.9" cy="226.6" r="1.75"/><circle cx="369.0" cy="222.7" r="1.75"/><circle cx="382.5" cy="225.8" r="1.75"/><circle cx="380.5" cy="228.3" r="1.75"/><circle cx="381.9" cy="218.1" r="1.75"/><circle cx="367.9" cy="244.0" r="1.75"/><circle cx="381.1" cy="225.4" r="1.75"/><circle cx="382.3" cy="225.9" r="1.75"/><circle cx="363.5" cy="225.4" r="1.75"/><circle cx="379.3" cy="218.5" r="1.75"/><circle cx="376.0" cy="223.9" r="1.75"/><circle cx="379.1" cy="218.9" r="1.75"/><circle cx="381.5" cy="211.0" r="1.75"/><circle cx="377.3" cy="209.5" r="1.75"/><circle cx="365.8" cy="216.6" r="1.75"/><circle cx="390.6" cy="221.6" r="1.75"/><circle cx="371.2" cy="214.9" r="1.75"/><circle cx="374.6" cy="225.3" r="1.75"/><circle cx="360.0" cy="216.5" r="1.75"/><circle cx="390.4" cy="227.9" r="1.75"/><circle cx="383.2" cy="222.8" r="1.75"/><circle cx="350.4" cy="213.4" r="1.75"/><circle cx="356.2" cy="226.5" r="1.75"/><circle cx="385.1" cy="213.7" r="1.75"/><circle cx="385.0" cy="224.7" r="1.75"/><circle cx="370.2" cy="220.7" r="1.75"/><circle cx="368.3" cy="221.6" r="1.75"/><circle cx="362.6" cy="227.6" r="1.75"/><circle cx="384.5" cy="228.5" r="1.75"/><circle cx="361.2" cy="237.7" r="1.75"/><circle cx="377.0" cy="219.1" r="1.75"/><circle cx="391.6" cy="222.9" r="1.75"/><circle cx="369.4" cy="230.1" r="1.75"/><circle cx="374.6" cy="224.1" r="1.75"/><circle cx="365.5" cy="222.6" r="1.75"/><circle cx="389.2" cy="216.5" r="1.75"/><circle cx="391.8" cy="236.8" r="1.75"/><circle cx="370.6" cy="212.9" r="1.75"/><circle cx="383.8" cy="225.8" r="1.75"/><circle cx="391.6" cy="217.4" r="1.75"/><circle cx="364.8" cy="228.5" r="1.75"/><circle cx="371.6" cy="232.9" r="1.75"/><circle cx="387.2" cy="226.7" r="1.75"/><circle cx="380.6" cy="214.7" r="1.75"/><circle cx="387.0" cy="230.0" r="1.75"/><circle cx="371.6" cy="226.2" r="1.75"/><circle cx="381.0" cy="239.7" r="1.75"/><circle cx="372.5" cy="218.6" r="1.75"/><circle cx="381.8" cy="220.1" r="1.75"/><circle cx="376.1" cy="217.5" r="1.75"/><circle cx="381.2" cy="211.3" r="1.75"/><circle cx="386.3" cy="227.8" r="1.75"/><circle cx="358.9" cy="218.3" r="1.75"/><circle cx="364.1" cy="235.1" r="1.75"/><circle cx="357.5" cy="224.0" r="1.75"/><circle cx="385.9" cy="227.4" r="1.75"/><circle cx="376.4" cy="231.0" r="1.75"/><circle cx="369.4" cy="236.1" r="1.75"/><circle cx="386.9" cy="226.7" r="1.75"/><circle cx="378.2" cy="214.9" r="1.75"/><circle cx="360.9" cy="233.8" r="1.75"/><circle cx="390.7" cy="215.3" r="1.75"/><circle cx="378.9" cy="210.6" r="1.75"/><circle cx="387.3" cy="220.2" r="1.75"/><circle cx="382.5" cy="221.8" r="1.75"/><circle cx="387.7" cy="237.0" r="1.75"/><circle cx="364.5" cy="215.0" r="1.75"/><circle cx="381.3" cy="216.9" r="1.75"/><circle cx="359.4" cy="208.3" r="1.75"/><circle cx="360.5" cy="210.3" r="1.75"/><circle cx="390.0" cy="235.4" r="1.75"/><circle cx="381.6" cy="215.7" r="1.75"/><circle cx="370.4" cy="212.8" r="1.75"/><circle cx="282.5" cy="201.8" r="1.75"/><circle cx="287.6" cy="207.1" r="1.75"/><circle cx="296.9" cy="214.9" r="1.75"/><circle cx="308.9" cy="191.7" r="1.75"/><circle cx="314.8" cy="203.7" r="1.75"/><circle cx="322.5" cy="203.4" r="1.75"/><circle cx="315.6" cy="217.8" r="1.75"/><circle cx="311.6" cy="219.9" r="1.75"/><circle cx="321.5" cy="222.9" r="1.75"/><circle cx="328.4" cy="224.2" r="1.75"/><circle cx="329.5" cy="209.8" r="1.75"/><circle cx="330.0" cy="212.5" r="1.75"/><circle cx="336.9" cy="205.0" r="1.75"/><circle cx="342.8" cy="198.6" r="1.75"/><circle cx="338.8" cy="211.7" r="1.75"/><circle cx="336.9" cy="217.5" r="1.75"/><circle cx="342.8" cy="214.3" r="1.75"/><circle cx="338.0" cy="226.9" r="1.75"/><circle cx="342.8" cy="224.2" r="1.75"/><circle cx="346.8" cy="217.0" r="1.75"/><circle cx="348.4" cy="221.0" r="1.75"/><circle cx="346.8" cy="225.8" r="1.75"/><circle cx="349.2" cy="230.6" r="1.75"/><circle cx="297.5" cy="272.0" r="1.75"/><circle cx="224.6" cy="160.4" r="1.75"/><circle cx="208.6" cy="162.8" r="1.75"/><circle cx="141.6" cy="122.0" r="1.75"/><circle cx="342.6" cy="198.0" r="1.75"/><circle cx="359.5" cy="196.7" r="1.75"/><circle cx="368.6" cy="202.5" r="1.75"/><circle cx="360.8" cy="211.0" r="1.75"/><circle cx="360.8" cy="237.6" r="1.75"/><circle cx="371.0" cy="243.4" r="1.75"/></g><g fill="none" stroke="#984ea3" stroke-width="2.3"><circle cx="179.4" cy="182.0" r="2.75"/><circle cx="190.6" cy="186.5" r="2.75"/><circle cx="174.3" cy="199.6" r="2.75"/><circle cx="179.7" cy="195.0" r="2.75"/><circle cx="194.6" cy="181.0" r="2.75"/><circle cx="199.6" cy="187.3" r="2.75"/><circle cx="181.8" cy="189.7" r="2.75"/><circle cx="181.9" cy="172.6" r="2.75"/><circle cx="176.1" cy="189.8" r="2.75"/><circle cx="191.0" cy="206.1" r="2.75"/><circle cx="176.2" cy="177.5" r="2.75"/><circle cx="170.8" cy="177.1" r="2.75"/><circle cx="193.8" cy="181.7" r="2.75"/><circle cx="190.0" cy="196.4" r="2.75"/><circle cx="189.6" cy="183.6" r="2.75"/><circle cx="185.4" cy="206.1" r="2.75"/><circle cx="179.5" cy="172.8" r="2.75"/><circle cx="174.0" cy="177.5" r="2.75"/><circle cx="184.0" cy="205.9" r="2.75"/><circle cx="190.4" cy="201.9" r="2.75"/><circle cx="170.1" cy="177.9" r="2.75"/><circle cx="186.8" cy="206.2" r="2.75"/><circle cx="193.9" cy="180.2" r="2.75"/><circle cx="184.5" cy="206.6" r="2.75"/><circle cx="191.4" cy="203.0" r="2.75"/><circle cx="195.3" cy="186.4" r="2.75"/><circle cx="179.2" cy="195.9" r="2.75"/><circle cx="172.8" cy="197.8" r="2.75"/><circle cx="188.2" cy="171.9" r="2.75"/><circle cx="199.5" cy="202.0" r="2.75"/><circle cx="186.0" cy="183.1" r="2.75"/><circle cx="190.9" cy="192.8" r="2.75"/><circle cx="177.0" cy="183.4" r="2.75"/><circle cx="175.3" cy="173.4" r="2.75"/><circle cx="189.1" cy="196.4" r="2.75"/><circle cx="196.4" cy="176.8" r="2.75"/><circle cx="184.6" cy="184.5" r="2.75"/><circle cx="190.5" cy="188.0" r="2.75"/><circle cx="187.5" cy="187.5" r="2.75"/><circle cx="199.9" cy="183.4" r="2.75"/><circle cx="180.1" cy="191.0" r="2.75"/><circle cx="197.5" cy="193.2" r="2.75"/><circle cx="193.2" cy="204.4" r="2.75"/><circle cx="190.4" cy="196.2" r="2.75"/><circle cx="169.9" cy="187.0" r="2.75"/><circle cx="199.0" cy="181.0" r="2.75"/><circle cx="194.5" cy="167.8" r="2.75"/><circle cx="200.2" cy="197.9" r="2.75"/><circle cx="190.2" cy="205.2" r="2.75"/><circle cx="176.7" cy="185.9" r="2.75"/><circle cx="182.4" cy="169.7" r="2.75"/><circle cx="197.9" cy="182.5" r="2.75"/><circle cx="200.1" cy="182.8" r="2.75"/><circle cx="178.9" cy="198.9" r="2.75"/><circle cx="190.0" cy="189.1" r="2.75"/><circle cx="191.2" cy="198.5" r="2.75"/><circle cx="180.4" cy="191.2" r="2.75"/><circle cx="185.9" cy="195.6" r="2.75"/><circle cx="191.9" cy="178.9" r="2.75"/><circle cx="201.2" cy="197.0" r="2.75"/><circle cx="197.1" cy="176.3" r="2.75"/><circle cx="194.4" cy="196.6" r="2.75"/><circle cx="191.6" cy="208.5" r="2.75"/><circle cx="182.9" cy="190.5" r="2.75"/><circle cx="190.2" cy="207.9" r="2.75"/><circle cx="184.2" cy="203.9" r="2.75"/><circle cx="190.1" cy="192.5" r="2.75"/><circle cx="200.0" cy="185.6" r="2.75"/><circle cx="184.1" cy="208.5" r="2.75"/><circle cx="185.9" cy="204.7" r="2.75"/><circle cx="189.1" cy="204.1" r="2.75"/><circle cx="177.7" cy="194.3" r="2.75"/><circle cx="193.3" cy="187.9" r="2.75"/><circle cx="171.2" cy="181.6" r="2.75"/><circle cx="190.9" cy="185.4" r="2.75"/><circle cx="185.3" cy="204.4" r="2.75"/><circle cx="185.8" cy="199.1" r="2.75"/><circle cx="177.7" cy="184.9" r="2.75"/><circle cx="183.1" cy="199.3" r="2.75"/><circle cx="194.9" cy="192.7" r="2.75"/><circle cx="177.6" cy="201.0" r="2.75"/><circle cx="169.7" cy="182.4" r="2.75"/><circle cx="173.3" cy="189.8" r="2.75"/><circle cx="174.0" cy="192.6" r="2.75"/><circle cx="190.3" cy="202.7" r="2.75"/><circle cx="188.4" cy="190.8" r="2.75"/><circle cx="193.7" cy="202.3" r="2.75"/><circle cx="182.2" cy="172.2" r="2.75"/><circle cx="174.1" cy="175.1" r="2.75"/><circle cx="194.8" cy="171.3" r="2.75"/><circle cx="180.3" cy="195.9" r="2.75"/><circle cx="194.9" cy="190.2" r="2.75"/><circle cx="188.3" cy="193.5" r="2.75"/><circle cx="199.8" cy="198.1" r="2.75"/><circle cx="175.7" cy="195.6" r="2.75"/><circle cx="175.0" cy="173.2" r="2.75"/><circle cx="187.4" cy="177.8" r="2.75"/><circle cx="176.9" cy="175.3" r="2.75"/><circle cx="187.8" cy="202.4" r="2.75"/><circle cx="194.2" cy="205.8" r="2.75"/><circle cx="174.6" cy="183.0" r="2.75"/><circle cx="198.3" cy="198.4" r="2.75"/><circle cx="193.4" cy="204.9" r="2.75"/><circle cx="201.9" cy="202.9" r="2.75"/><circle cx="190.7" cy="171.4" r="2.75"/><circle cx="196.6" cy="177.2" r="2.75"/><circle cx="188.7" cy="174.6" r="2.75"/><circle cx="177.8" cy="180.8" r="2.75"/><circle cx="193.1" cy="203.2" r="2.75"/><circle cx="194.7" cy="188.0" r="2.75"/><circle cx="193.4" cy="174.2" r="2.75"/><circle cx="189.9" cy="174.4" r="2.75"/><circle cx="180.9" cy="182.2" r="2.75"/><circle cx="187.4" cy="206.5" r="2.75"/><circle cx="176.6" cy="181.1" r="2.75"/><circle cx="177.6" cy="192.8" r="2.75"/><circle cx="199.1" cy="196.2" r="2.75"/><circle cx="198.5" cy="195.3" r="2.75"/><circle cx="188.4" cy="199.9" r="2.75"/><circle cx="181.7" cy="170.3" r="2.75"/><circle cx="200.3" cy="196.2" r="2.75"/><circle cx="189.6" cy="204.9" r="2.75"/><circle cx="193.6" cy="183.1" r="2.75"/><circle cx="182.5" cy="192.7" r="2.75"/><circle cx="202.7" cy="201.7" r="2.75"/><circle cx="192.9" cy="175.8" r="2.75"/><circle cx="178.1" cy="202.7" r="2.75"/><circle cx="184.2" cy="174.0" r="2.75"/><circle cx="168.3" cy="192.5" r="2.75"/><circle cx="200.1" cy="186.6" r="2.75"/><circle cx="191.9" cy="191.7" r="2.75"/><circle cx="185.3" cy="188.4" r="2.75"/><circle cx="188.5" cy="205.5" r="2.75"/><circle cx="187.0" cy="201.6" r="2.75"/><circle cx="191.5" cy="174.9" r="2.75"/><circle cx="190.4" cy="182.9" r="2.75"/><circle cx="190.1" cy="194.5" r="2.75"/><circle cx="190.8" cy="176.6" r="2.75"/><circle cx="178.5" cy="181.2" r="2.75"/><circle cx="172.2" cy="176.5" r="2.75"/><circle cx="197.1" cy="185.0" r="2.75"/><circle cx="186.0" cy="177.5" r="2.75"/><circle cx="190.0" cy="195.9" r="2.75"/><circle cx="200.7" cy="186.0" r="2.75"/><circle cx="186.9" cy="180.0" r="2.75"/><circle cx="177.6" cy="182.5" r="2.75"/><circle cx="179.5" cy="205.9" r="2.75"/><circle cx="200.3" cy="204.2" r="2.75"/><circle cx="186.7" cy="205.3" r="2.75"/><circle cx="181.8" cy="181.6" r="2.75"/><circle cx="193.3" cy="192.9" r="2.75"/><circle cx="191.9" cy="198.0" r="2.75"/><circle cx="179.5" cy="171.4" r="2.75"/><circle cx="198.8" cy="189.7" r="2.75"/><circle cx="195.9" cy="206.9" r="2.75"/><circle cx="171.8" cy="187.6" r="2.75"/><circle cx="189.7" cy="199.1" r="2.75"/><circle cx="192.1" cy="169.4" r="2.75"/><circle cx="187.0" cy="176.8" r="2.75"/><circle cx="197.6" cy="193.2" r="2.75"/><circle cx="187.1" cy="181.6" r="2.75"/><circle cx="170.4" cy="191.6" r="2.75"/><circle cx="187.0" cy="182.2" r="2.75"/><circle cx="193.1" cy="201.6" r="2.75"/><circle cx="200.7" cy="191.4" r="2.75"/><circle cx="195.0" cy="207.3" r="2.75"/><circle cx="185.4" cy="201.5" r="2.75"/><circle cx="177.9" cy="173.2" r="2.75"/><circle cx="201.1" cy="201.0" r="2.75"/><circle cx="184.9" cy="200.3" r="2.75"/><circle cx="198.6" cy="191.2" r="2.75"/><circle cx="192.8" cy="206.9" r="2.75"/><circle cx="184.7" cy="188.6" r="2.75"/><circle cx="180.9" cy="181.8" r="2.75"/><circle cx="175.3" cy="186.0" r="2.75"/><circle cx="177.7" cy="194.0" r="2.75"/><circle cx="175.5" cy="173.4" r="2.75"/><circle cx="185.7" cy="181.0" r="2.75"/><circle cx="183.8" cy="177.6" r="2.75"/><circle cx="172.9" cy="179.0" r="2.75"/><circle cx="173.7" cy="194.9" r="2.75"/><circle cx="178.7" cy="197.5" r="2.75"/><circle cx="176.2" cy="195.4" r="2.75"/><circle cx="187.1" cy="208.8" r="2.75"/><circle cx="197.5" cy="200.8" r="2.75"/><circle cx="201.1" cy="196.0" r="2.75"/><circle cx="183.3" cy="196.8" r="2.75"/><circle cx="195.0" cy="188.9" r="2.75"/><circle cx="190.9" cy="190.0" r="2.75"/><circle cx="197.2" cy="189.9" r="2.75"/><circle cx="174.8" cy="195.0" r="2.75"/><circle cx="183.7" cy="198.3" r="2.75"/><circle cx="179.6" cy="208.7" r="2.75"/><circle cx="180.2" cy="201.8" r="2.75"/><circle cx="170.8" cy="186.2" r="2.75"/><circle cx="182.6" cy="174.8" r="2.75"/><circle cx="176.7" cy="178.7" r="2.75"/><circle cx="201.9" cy="195.2" r="2.75"/><circle cx="183.9" cy="202.5" r="2.75"/><circle cx="194.1" cy="200.8" r="2.75"/><circle cx="195.1" cy="184.9" r="2.75"/><circle cx="192.6" cy="188.6" r="2.75"/><circle cx="194.8" cy="200.9" r="2.75"/><circle cx="182.1" cy="207.8" r="2.75"/><circle cx="190.6" cy="199.6" r="2.75"/><circle cx="199.1" cy="186.9" r="2.75"/><circle cx="194.9" cy="189.5" r="2.75"/><circle cx="177.9" cy="171.0" r="2.75"/><circle cx="187.3" cy="201.3" r="2.75"/><circle cx="171.4" cy="189.0" r="2.75"/><circle cx="196.9" cy="184.8" r="2.75"/><circle cx="196.0" cy="181.5" r="2.75"/><circle cx="188.5" cy="173.0" r="2.75"/><circle cx="183.5" cy="193.0" r="2.75"/><circle cx="174.7" cy="181.6" r="2.75"/><circle cx="200.4" cy="198.3" r="2.75"/><circle cx="178.7" cy="203.2" r="2.75"/><circle cx="190.5" cy="185.1" r="2.75"/><circle cx="173.7" cy="176.7" r="2.75"/><circle cx="183.6" cy="197.7" r="2.75"/><circle cx="189.0" cy="176.7" r="2.75"/><circle cx="183.4" cy="190.3" r="2.75"/><circle cx="188.0" cy="193.3" r="2.75"/><circle cx="183.8" cy="205.0" r="2.75"/><circle cx="201.6" cy="192.1" r="2.75"/><circle cx="186.9" cy="177.0" r="2.75"/><circle cx="183.8" cy="177.2" r="2.75"/><circle cx="181.9" cy="204.2" r="2.75"/><circle cx="175.4" cy="200.5" r="2.75"/><circle cx="176.4" cy="180.8" r="2.75"/><circle cx="196.8" cy="196.5" r="2.75"/><circle cx="187.4" cy="172.5" r="2.75"/><circle cx="184.5" cy="198.8" r="2.75"/><circle cx="192.8" cy="182.0" r="2.75"/><circle cx="195.5" cy="179.0" r="2.75"/><circle cx="174.4" cy="180.7" r="2.75"/><circle cx="170.7" cy="187.1" r="2.75"/><circle cx="178.6" cy="186.0" r="2.75"/><circle cx="183.3" cy="182.3" r="2.75"/><circle cx="181.8" cy="182.4" r="2.75"/><circle cx="172.5" cy="187.1" r="2.75"/><circle cx="173.7" cy="182.3" r="2.75"/><circle cx="189.7" cy="188.5" r="2.75"/><circle cx="181.1" cy="181.9" r="2.75"/><circle cx="179.9" cy="178.6" r="2.75"/><circle cx="186.1" cy="177.4" r="2.75"/><circle cx="185.2" cy="181.2" r="2.75"/><circle cx="191.8" cy="208.1" r="2.75"/><circle cx="192.4" cy="190.4" r="2.75"/><circle cx="186.5" cy="193.8" r="2.75"/><circle cx="183.2" cy="170.0" r="2.75"/><circle cx="175.0" cy="177.1" r="2.75"/><circle cx="173.0" cy="197.2" r="2.75"/><circle cx="174.2" cy="174.8" r="2.75"/><circle cx="170.5" cy="193.0" r="2.75"/><circle cx="180.5" cy="191.1" r="2.75"/><circle cx="179.2" cy="193.4" r="2.75"/><circle cx="200.4" cy="189.4" r="2.75"/><circle cx="194.2" cy="204.8" r="2.75"/><circle cx="171.3" cy="179.9" r="2.75"/><circle cx="169.0" cy="177.5" r="2.75"/><circle cx="173.5" cy="173.7" r="2.75"/><circle cx="199.7" cy="198.5" r="2.75"/><circle cx="202.0" cy="191.0" r="2.75"/><circle cx="190.0" cy="209.7" r="2.75"/><circle cx="197.5" cy="209.0" r="2.75"/></g><g fill="#fff" stroke="#984ea3" stroke-width="2.3"><circle cx="182.5" cy="164.0" r="2.75"/><circle cx="195.2" cy="164.7" r="2.75"/><circle cx="200.5" cy="178.2" r="2.75"/><circle cx="166.7" cy="193.2" r="2.75"/><circle cx="172.0" cy="197.0" r="2.75"/><circle cx="175.0" cy="203.0" r="2.75"/><circle cx="178.7" cy="211.2" r="2.75"/><circle cx="204.2" cy="204.5" r="2.75"/><circle cx="184.7" cy="216.5" r="2.75"/><circle cx="196.0" cy="224.0" r="2.75"/></g><g fill="none" stroke="#377eb8" stroke-width="2.3"><circle cx="131.5" cy="118.9" r="2.75"/><circle cx="151.7" cy="149.8" r="2.75"/><circle cx="201.0" cy="148.2" r="2.75"/><circle cx="173.9" cy="161.0" r="2.75"/></g><g fill="none" stroke="#ff7f00" stroke-width="2.3"><circle cx="168.6" cy="324.3" r="2.75"/></g><g fill="none" stroke="#808080" stroke-width="2.3"><circle cx="237.0" cy="190.8" r="2.75"/></g><g stroke-opacity="0.35" fill="none" stroke="#808080" stroke-width="2.3"><circle cx="187.3" cy="180.2" r="2.75"/></g><g font-family="Liberation Sans, sans-serif" fill="#363636" stroke="#363636" stroke-width="0.15"><text x="272.5" y="18.5" font-size="16" text-anchor="middle">study samples colored by inferred ancestry</text><text x="40.4" y="29.4" font-size="13.5" text-anchor="end">3</text><text x="40.4" y="98.1" font-size="13.5" text-anchor="end">2</text><text x="40.4" y="167.9" font-size="13.5" text-anchor="end">1</text><text x="40.4" y="238.0" font-size="13.5" text-anchor="end">0</text><text x="40.4" y="307.8" font-size="13.5" text-anchor="end">−1</text><text x="40.4" y="376.8" font-size="13.5" text-anchor="end">−2</text><text x="40.4" y="446.4" font-size="13.5" text-anchor="end">−3</text><text x="49.90" y="463.0" font-size="13.5" text-anchor="middle">−1.5</text><text x="105.50" y="463.0" font-size="13.5" text-anchor="middle">−1.0</text><text x="161.10" y="463.0" font-size="13.5" text-anchor="middle">−0.5</text><text x="216.60" y="463.0" font-size="13.5" text-anchor="middle">0.0</text><text x="272.80" y="463.0" font-size="13.5" text-anchor="middle">0.5</text><text x="328.50" y="463.0" font-size="13.5" text-anchor="middle">1.0</text><text x="383.90" y="463.0" font-size="13.5" text-anchor="middle">1.5</text><text x="439.60" y="463.0" font-size="13.5" text-anchor="middle">2.0</text><text x="495.00" y="463.0" font-size="13.5" text-anchor="middle">2.5</text><text x="272.5" y="482.8" font-size="14" text-anchor="middle">PC1</text><text transform="translate(16.4,236.4) rotate(-90)" font-size="14" text-anchor="middle">PC3</text><text x="342.6" y="48.2" font-size="16">population from 1kg</text><rect x="358.8" y="58.8" width="26.8" height="10.0" fill="#e41a1c" stroke="none"/><text x="396.3" y="68.7" font-size="13.5" letter-spacing="-0.2">AFR</text><rect x="358.8" y="78.8" width="26.8" height="10.0" fill="#377eb8" stroke="none"/><text x="396.3" y="88.7" font-size="13.5" letter-spacing="-0.2">AMR</text><rect x="358.8" y="98.8" width="26.8" height="10.0" fill="#4daf4a" stroke="none"/><text x="396.3" y="108.7" font-size="13.5" letter-spacing="-0.2">EAS</text><rect x="358.8" y="118.8" width="26.8" height="10.0" fill="#984ea3" stroke="none"/><text x="396.3" y="128.7" font-size="13.5" letter-spacing="-0.2">EUR</text><rect x="358.8" y="138.8" width="26.8" height="10.0" fill="#ff7f00" stroke="none"/><text x="396.3" y="148.7" font-size="13.5" letter-spacing="-0.2">SAS</text><rect x="358.8" y="158.8" width="26.8" height="10.0" fill="#808080" stroke="none"/><text x="396.3" y="168.7" font-size="13.5" letter-spacing="-0.2">UNKNOWN</text></g></svg></body></html>
